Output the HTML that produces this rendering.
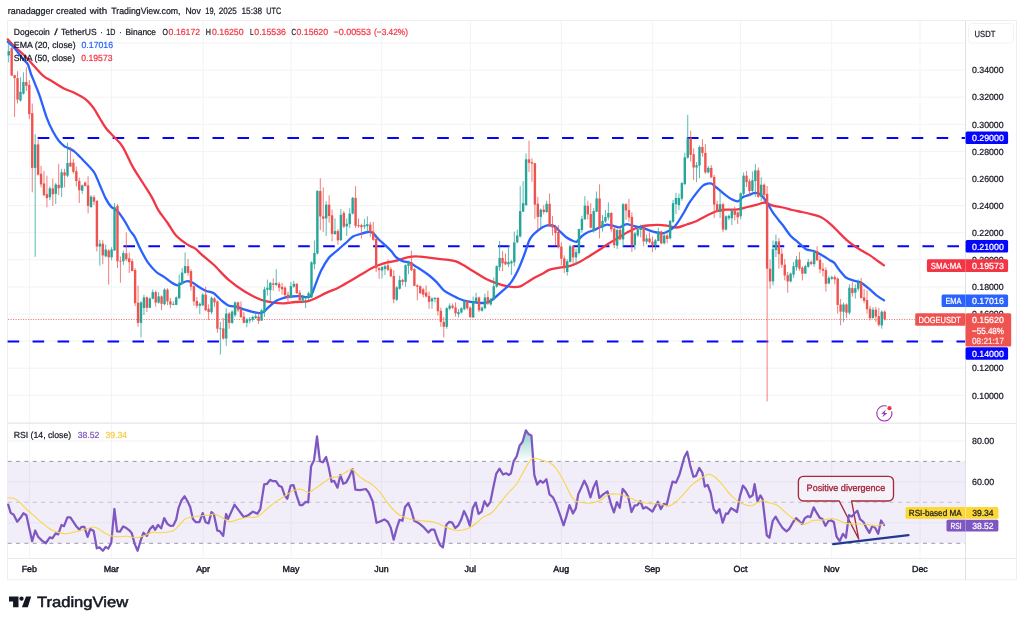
<!DOCTYPE html>
<html lang="en"><head><meta charset="utf-8"><title>DOGEUSDT chart</title>
<style>html,body{margin:0;padding:0;background:#fff;}svg{display:block}</style></head>
<body>
<svg width="1024" height="625" viewBox="0 0 1024 625" font-family='"Liberation Sans", sans-serif' font-size="8.9" fill="#131722" shape-rendering="auto" text-rendering="geometricPrecision">
<rect width="1024" height="625" fill="#fff"/>
<text x="7.8" y="14.3" font-size="9.2" stroke="#131722" stroke-width="0.22" textLength="45.7" lengthAdjust="spacingAndGlyphs">ranadagger</text>
<text x="56.1" y="14.3" font-size="9.2" stroke="#131722" stroke-width="0.22" textLength="30.3" lengthAdjust="spacingAndGlyphs">created</text>
<text x="89.7" y="14.3" font-size="9.2" stroke="#131722" stroke-width="0.22" textLength="17.4" lengthAdjust="spacingAndGlyphs">with</text>
<text x="111.3" y="14.3" font-size="9.2" stroke="#131722" stroke-width="0.22" textLength="69.2" lengthAdjust="spacingAndGlyphs">TradingView.com,</text>
<text x="185.4" y="14.3" font-size="9.2" stroke="#131722" stroke-width="0.22" textLength="15.3" lengthAdjust="spacingAndGlyphs">Nov</text>
<text x="205.3" y="14.3" font-size="9.2" stroke="#131722" stroke-width="0.22" textLength="10.3" lengthAdjust="spacingAndGlyphs">19,</text>
<text x="218.8" y="14.3" font-size="9.2" stroke="#131722" stroke-width="0.22" textLength="18.1" lengthAdjust="spacingAndGlyphs">2025</text>
<text x="241.4" y="14.3" font-size="9.2" stroke="#131722" stroke-width="0.22" textLength="20.8" lengthAdjust="spacingAndGlyphs">15:38</text>
<text x="266.3" y="14.3" font-size="9.2" stroke="#131722" stroke-width="0.22" textLength="14.8" lengthAdjust="spacingAndGlyphs">UTC</text>
<rect x="7.5" y="20.5" width="1009" height="559.2" fill="#fff" stroke="#eceef1" stroke-width="1"/>
<g stroke="#f2f3f5" stroke-width="1">
<line x1="8" x2="965" y1="43.0" y2="43.0"/>
<line x1="8" x2="965" y1="70.1" y2="70.1"/>
<line x1="8" x2="965" y1="97.2" y2="97.2"/>
<line x1="8" x2="965" y1="124.3" y2="124.3"/>
<line x1="8" x2="965" y1="151.4" y2="151.4"/>
<line x1="8" x2="965" y1="178.5" y2="178.5"/>
<line x1="8" x2="965" y1="205.6" y2="205.6"/>
<line x1="8" x2="965" y1="232.7" y2="232.7"/>
<line x1="8" x2="965" y1="259.8" y2="259.8"/>
<line x1="8" x2="965" y1="286.9" y2="286.9"/>
<line x1="8" x2="965" y1="314.0" y2="314.0"/>
<line x1="8" x2="965" y1="341.1" y2="341.1"/>
<line x1="8" x2="965" y1="368.2" y2="368.2"/>
<line x1="8" x2="965" y1="395.3" y2="395.3"/>
<line x1="8" x2="965" y1="422.4" y2="422.4"/>
<line x1="29.4" x2="29.4" y1="21" y2="558"/>
<line x1="111.4" x2="111.4" y1="21" y2="558"/>
<line x1="203.2" x2="203.2" y1="21" y2="558"/>
<line x1="291.1" x2="291.1" y1="21" y2="558"/>
<line x1="381.6" x2="381.6" y1="21" y2="558"/>
<line x1="470.4" x2="470.4" y1="21" y2="558"/>
<line x1="561.3" x2="561.3" y1="21" y2="558"/>
<line x1="652.4" x2="652.4" y1="21" y2="558"/>
<line x1="740.6" x2="740.6" y1="21" y2="558"/>
<line x1="831.7" x2="831.7" y1="21" y2="558"/>
<line x1="920.0" x2="920.0" y1="21" y2="558"/>
<line x1="8" x2="965" y1="440.9" y2="440.9"/>
<line x1="8" x2="965" y1="481.9" y2="481.9"/>
<line x1="8" x2="965" y1="522.8" y2="522.8"/>
</g>
<rect x="8" y="461.4" width="957.5" height="81.9" fill="#7e57c2" fill-opacity="0.1"/>
<g stroke="#787b86" stroke-opacity="0.75" stroke-width="1" stroke-dasharray="3.9 4.42">
<line x1="7.8" x2="965" y1="461.4" y2="461.4"/>
<line x1="7.8" x2="965" y1="543.3" y2="543.3"/>
<line x1="7.8" x2="965" y1="502.3" y2="502.3" stroke-opacity="0.4"/>
</g>
<g stroke="#e3e5ea" stroke-width="1">
<line x1="8" x2="1016" y1="423.5" y2="423.5" stroke="#e8eaee"/>
<line x1="8" x2="1016" y1="558.5" y2="558.5" stroke="#e8eaee"/>
<line x1="965.5" x2="965.5" y1="21" y2="580" stroke="#dfe1e6"/>
</g>
<g stroke="#0404ff" stroke-width="2.1" stroke-dasharray="11.6 13.37">
<line x1="37.7" x2="965" y1="138.0" y2="138.0"/>
<line x1="123.4" x2="965" y1="246.2" y2="246.2"/>
<line x1="7.6" x2="965" y1="341.5" y2="341.5"/>
</g>
<path d="M7.8,39.4 C8.9,40.6 11.8,44.0 14.6,46.7 C17.4,49.4 21.1,52.2 24.4,55.5 C27.7,58.8 31.1,62.9 34.2,66.3 C37.3,69.6 39.9,73.0 43.0,75.6 C46.1,78.2 49.1,79.5 52.7,81.7 C56.3,83.9 60.9,87.0 64.5,88.8 C68.1,90.6 70.6,90.9 74.2,92.7 C77.8,94.5 82.7,97.0 86.0,99.6 C89.3,102.2 91.5,105.3 93.8,108.4 C96.1,111.5 97.5,114.6 99.6,118.0 C101.7,121.4 103.8,125.5 106.4,128.8 C109.0,132.1 112.4,134.9 115.2,138.0 C118.0,141.1 120.1,142.5 123.0,147.3 C125.9,152.1 129.5,161.0 132.8,166.9 C136.1,172.8 139.3,177.3 142.6,182.5 C145.8,187.7 149.7,193.5 152.3,198.1 C154.9,202.7 155.6,205.6 158.2,209.8 C160.8,214.0 165.1,219.3 168.0,223.5 C170.9,227.7 172.6,231.7 175.8,235.2 C179.1,238.7 184.2,242.4 187.5,244.6 C190.8,246.8 192.9,246.9 195.3,248.6 C197.7,250.3 198.7,251.9 201.7,254.6 C204.7,257.2 208.8,260.2 213.4,264.5 C218.0,268.8 223.8,275.7 229.0,280.2 C234.2,284.7 239.5,288.4 244.7,291.6 C249.9,294.8 255.8,297.7 260.3,299.5 C264.9,301.3 268.1,301.8 272.0,302.4 C275.9,303.0 279.8,303.5 283.8,303.4 C287.7,303.3 291.6,302.3 295.5,302.0 C299.4,301.7 303.9,302.0 307.2,301.4 C310.4,300.8 311.8,300.0 315.0,298.5 C318.2,297.0 322.8,294.4 326.7,292.6 C330.6,290.8 334.5,289.6 338.4,287.7 C342.3,285.8 346.3,283.2 350.2,280.9 C354.1,278.6 358.0,276.3 361.9,274.0 C365.8,271.7 370.0,269.0 373.6,267.2 C377.2,265.4 380.1,264.4 383.8,263.3 C387.4,262.2 391.6,261.9 395.5,260.9 C399.4,259.9 403.6,258.1 407.2,257.4 C410.8,256.6 413.4,256.3 417.0,256.4 C420.6,256.4 425.0,257.3 428.6,257.7 C432.2,258.1 435.1,258.4 438.4,258.8 C441.6,259.2 445.2,259.4 448.1,259.8 C451.0,260.2 453.3,260.5 455.9,261.4 C458.5,262.3 461.1,263.8 463.8,265.3 C466.4,266.8 469.0,268.6 471.6,270.2 C474.2,271.8 476.8,273.4 479.4,275.0 C482.0,276.6 484.3,278.1 487.2,279.5 C490.1,280.9 493.8,282.3 497.0,283.4 C500.2,284.5 503.8,285.6 506.7,286.2 C509.6,286.8 512.2,287.1 514.5,287.1 C516.8,287.1 518.4,287.1 520.4,286.4 C522.4,285.7 524.0,284.3 526.2,282.9 C528.5,281.5 531.4,279.5 534.0,278.0 C536.6,276.5 539.3,275.4 541.9,274.0 C544.5,272.6 546.9,270.8 549.8,269.7 C552.7,268.6 556.2,268.3 559.5,267.7 C562.8,267.1 566.0,267.1 569.3,266.2 C572.5,265.3 575.8,263.9 579.0,262.3 C582.2,260.7 585.5,258.4 588.8,256.4 C592.1,254.4 595.3,252.3 598.6,250.2 C601.9,248.1 605.1,245.8 608.4,243.7 C611.6,241.6 614.9,239.8 618.1,237.9 C621.4,236.0 624.6,233.7 627.9,232.0 C631.2,230.3 634.5,228.6 637.7,227.5 C641.0,226.4 644.1,225.9 647.4,225.5 C650.6,225.1 653.9,224.8 657.2,224.8 C660.5,224.8 663.8,225.2 667.0,225.7 C670.2,226.1 673.5,227.7 676.7,227.5 C680.0,227.3 683.2,225.6 686.5,224.5 C689.8,223.4 693.0,222.6 696.2,221.2 C699.5,219.8 702.7,217.6 706.0,216.0 C709.3,214.4 712.5,212.6 715.8,211.5 C719.0,210.4 721.9,210.1 725.5,209.7 C729.1,209.3 734.1,209.8 737.7,209.3 C741.4,208.9 744.1,207.8 747.4,207.0 C750.6,206.2 754.3,205.3 757.2,204.6 C760.1,203.9 762.4,202.5 765.0,202.7 C767.6,202.9 769.9,204.8 772.8,205.6 C775.7,206.4 779.4,206.8 782.6,207.5 C785.9,208.2 789.0,209.2 792.3,210.0 C795.5,210.8 798.8,211.3 802.1,212.0 C805.4,212.7 808.6,213.4 811.9,214.3 C815.1,215.2 818.4,215.8 821.6,217.5 C824.8,219.2 828.4,222.3 831.3,224.8 C834.2,227.3 836.5,230.0 839.1,232.6 C841.7,235.2 844.4,238.1 847.0,240.4 C849.6,242.7 852.2,244.5 854.8,246.2 C857.4,248.0 860.0,249.5 862.6,251.1 C865.2,252.7 868.1,254.1 870.4,255.6 C872.7,257.1 874.0,258.3 876.2,259.9 C878.5,261.5 882.7,264.5 884.0,265.4" fill="none" stroke="#f23645" stroke-width="2.3" stroke-linejoin="round" stroke-linecap="round" />
<path d="M7.8,41.9 C8.7,42.7 13.1,46.6 14.6,48.2 C16.1,49.8 18.3,53.1 19.5,54.6 C20.7,56.1 23.4,59.2 24.4,60.4 C25.4,61.6 26.9,62.5 27.8,64.3 C28.7,66.1 30.3,72.0 31.2,74.5 C32.2,77.0 34.2,81.7 35.2,84.3 C36.2,86.9 38.0,91.1 39.5,95.3 C41.0,99.5 45.2,113.7 46.9,118.2 C48.5,122.7 51.2,128.2 52.7,131.0 C54.2,133.8 57.1,138.6 58.6,140.5 C60.1,142.4 63.5,145.6 64.5,146.4 C65.5,147.2 65.2,146.7 66.4,147.3 C67.6,147.9 72.2,149.8 74.2,151.3 C76.2,152.8 79.5,156.4 82.0,159.0 C84.5,161.6 91.6,168.6 93.8,171.8 C96.0,175.0 98.1,181.2 99.6,184.5 C101.1,187.8 104.0,195.3 105.5,198.1 C107.0,200.9 109.8,205.3 111.3,206.9 C112.8,208.5 115.5,209.0 117.2,210.8 C118.9,212.6 123.4,219.1 125.0,221.6 C126.6,224.1 128.8,228.6 130.0,230.5 C131.2,232.4 133.5,234.6 134.8,237.0 C136.1,239.4 138.9,246.2 140.6,249.5 C142.3,252.8 146.4,260.4 148.4,263.2 C150.4,266.0 154.4,270.3 156.3,272.0 C158.2,273.7 162.1,275.6 164.0,276.9 C165.9,278.2 170.2,281.6 171.9,282.7 C173.6,283.8 176.4,285.3 177.7,285.3 C179.0,285.3 181.4,283.2 182.6,282.7 C183.8,282.2 186.2,281.2 187.5,281.2 C188.8,281.2 192.1,282.4 193.4,283.0 C194.7,283.6 196.3,285.2 197.8,286.2 C199.3,287.2 203.7,289.8 205.6,290.7 C207.5,291.6 211.4,291.8 213.4,293.0 C215.4,294.2 219.4,298.8 221.3,300.4 C223.2,302.0 227.1,304.9 229.0,305.7 C230.9,306.5 234.9,306.4 236.9,306.9 C238.9,307.4 242.8,309.0 244.7,309.6 C246.6,310.2 250.6,311.4 252.5,311.8 C254.4,312.2 258.8,313.1 260.3,313.1 C261.8,313.1 263.2,312.3 264.2,311.6 C265.2,310.9 266.6,309.0 268.1,307.7 C269.6,306.4 273.9,302.2 275.9,301.0 C277.9,299.8 281.8,298.5 283.8,297.9 C285.7,297.3 289.6,296.7 291.6,296.5 C293.6,296.3 297.4,296.0 299.4,296.1 C301.3,296.2 305.7,297.2 307.2,297.1 C308.7,297.0 310.1,296.9 311.1,295.5 C312.1,294.1 313.8,288.9 315.0,285.8 C316.2,282.8 319.2,274.6 320.9,271.1 C322.6,267.6 326.7,260.6 328.7,258.0 C330.7,255.4 334.8,252.5 337.0,250.6 C339.2,248.7 344.3,244.3 346.3,242.5 C348.3,240.7 351.2,237.6 353.0,236.5 C354.8,235.4 358.4,234.6 360.3,234.0 C362.2,233.4 366.5,232.1 368.1,232.0 C369.7,231.9 371.8,232.2 373.0,233.0 C374.2,233.8 376.3,236.9 377.9,238.5 C379.5,240.1 384.0,244.1 385.7,245.7 C387.4,247.3 390.3,250.1 391.6,251.6 C392.9,253.1 394.9,256.3 396.4,257.5 C397.9,258.7 401.7,260.7 403.3,261.3 C404.9,261.9 407.6,261.7 409.1,262.3 C410.6,262.9 413.8,265.3 415.0,266.0 C416.2,266.7 417.1,267.1 418.8,268.2 C420.5,269.3 426.4,273.3 428.6,275.0 C430.8,276.7 434.4,279.9 436.4,281.9 C438.3,283.9 442.2,289.0 444.2,290.7 C446.1,292.4 450.1,294.2 452.0,295.2 C453.9,296.2 457.8,298.2 459.8,299.0 C461.8,299.8 465.7,301.0 467.7,301.4 C469.7,301.8 473.6,302.2 475.5,302.4 C477.4,302.6 481.6,303.1 483.3,303.0 C485.0,302.9 487.6,302.5 489.1,301.8 C490.6,301.1 493.3,298.9 495.0,297.5 C496.7,296.1 500.9,292.5 502.8,290.7 C504.8,288.9 508.7,285.6 510.6,282.9 C512.6,280.2 516.7,272.8 518.4,269.2 C520.1,265.6 523.2,257.5 524.5,254.0 C525.8,250.5 528.0,243.3 529.0,241.0 C530.0,238.7 531.5,236.7 532.5,235.5 C533.5,234.3 535.4,232.6 536.6,231.6 C537.9,230.6 541.1,228.1 542.5,227.3 C543.9,226.5 545.9,225.5 547.4,225.3 C548.9,225.2 552.6,225.3 554.2,226.1 C555.8,226.9 558.6,230.2 560.1,231.6 C561.6,233.0 564.4,235.9 565.9,237.0 C567.4,238.1 570.4,239.8 571.8,240.4 C573.1,241.0 575.5,242.2 576.7,241.7 C577.9,241.2 580.3,237.6 581.6,236.4 C582.9,235.2 585.7,233.3 587.4,232.5 C589.1,231.7 593.5,230.3 595.2,229.6 C596.9,228.9 599.6,227.3 601.1,226.7 C602.6,226.1 605.5,224.8 607.0,224.7 C608.5,224.6 611.2,225.4 612.8,225.7 C614.4,226.0 617.9,227.5 619.6,227.3 C621.3,227.1 624.7,224.2 626.5,224.1 C628.3,223.9 632.3,225.7 634.3,226.1 C636.2,226.5 640.1,227.1 642.1,227.7 C644.1,228.3 648.1,230.0 649.9,230.6 C651.7,231.2 655.0,232.2 656.8,232.5 C658.5,232.8 662.0,233.3 663.6,233.1 C665.2,232.9 668.0,231.5 669.5,230.6 C671.0,229.7 674.0,227.1 675.3,225.7 C676.6,224.2 678.9,220.8 680.0,219.0 C681.1,217.2 683.4,213.4 684.5,211.5 C685.6,209.6 687.3,205.9 688.8,203.6 C690.3,201.3 694.9,195.1 696.6,192.9 C698.3,190.7 701.1,187.2 702.5,186.0 C703.9,184.8 706.3,184.0 707.4,183.7 C708.5,183.4 710.1,183.0 711.3,183.5 C712.5,184.0 715.5,186.7 717.1,188.0 C718.7,189.3 722.3,192.6 724.0,193.9 C725.7,195.2 729.1,197.8 730.8,198.8 C732.5,199.7 736.1,201.5 737.7,201.3 C739.3,201.1 742.0,197.6 743.5,196.8 C745.0,196.0 747.9,195.3 749.4,194.8 C750.9,194.3 753.7,192.9 755.2,192.9 C756.7,192.9 759.6,193.6 761.1,194.8 C762.6,196.0 765.5,200.5 767.0,202.7 C768.5,204.9 771.3,210.2 772.8,212.4 C774.3,214.6 777.5,218.6 778.7,220.2 C779.9,221.8 781.0,222.9 782.5,224.8 C784.0,226.7 788.3,233.3 790.3,235.5 C792.2,237.7 796.1,240.6 798.1,242.3 C800.1,244.0 803.9,248.1 805.9,249.2 C807.9,250.3 811.8,250.4 813.8,251.1 C815.7,251.8 819.6,253.9 821.6,255.0 C823.6,256.1 827.8,258.9 829.4,259.9 C831.0,260.9 833.1,261.7 834.3,262.9 C835.5,264.1 837.6,267.9 839.1,269.7 C840.6,271.5 844.3,276.2 846.0,277.5 C847.7,278.8 851.0,279.8 852.8,280.4 C854.6,281.0 858.6,281.4 860.6,282.4 C862.6,283.4 866.4,286.6 868.4,288.2 C870.4,289.8 874.3,293.6 876.2,295.1 C878.2,296.6 883.0,299.7 884.0,300.4" fill="none" stroke="#2962ff" stroke-width="2.3" stroke-linejoin="round" stroke-linecap="round" />
<line x1="8" x2="915" y1="319.5" y2="319.5" stroke="#ef5350" stroke-width="1" stroke-opacity="0.8" stroke-dasharray="1.1 1.41"/>
<g stroke-width="0.9" stroke-opacity="0.85"><line x1="8.72" x2="8.72" y1="40.9" y2="62.4" stroke="#26a69a"/><line x1="11.66" x2="11.66" y1="46.7" y2="76.0" stroke="#ef5350"/><line x1="14.60" x2="14.60" y1="74.8" y2="117.1" stroke="#ef5350"/><line x1="17.54" x2="17.54" y1="71.2" y2="103.5" stroke="#ef5350"/><line x1="20.48" x2="20.48" y1="77.1" y2="101.5" stroke="#26a69a"/><line x1="23.42" x2="23.42" y1="72.2" y2="94.7" stroke="#26a69a"/><line x1="26.36" x2="26.36" y1="67.3" y2="91.0" stroke="#ef5350"/><line x1="29.30" x2="29.30" y1="80.0" y2="119.1" stroke="#ef5350"/><line x1="32.24" x2="32.24" y1="103.5" y2="192.3" stroke="#ef5350"/><line x1="35.18" x2="35.18" y1="134.0" y2="256.8" stroke="#26a69a"/><line x1="38.11" x2="38.11" y1="139.5" y2="175.5" stroke="#ef5350"/><line x1="41.05" x2="41.05" y1="165.9" y2="187.4" stroke="#ef5350"/><line x1="43.99" x2="43.99" y1="170.8" y2="196.2" stroke="#ef5350"/><line x1="46.93" x2="46.93" y1="175.7" y2="207.3" stroke="#ef5350"/><line x1="49.87" x2="49.87" y1="186.4" y2="200.1" stroke="#26a69a"/><line x1="52.81" x2="52.81" y1="178.6" y2="205.9" stroke="#ef5350"/><line x1="55.75" x2="55.75" y1="182.9" y2="204.0" stroke="#26a69a"/><line x1="58.69" x2="58.69" y1="163.9" y2="195.2" stroke="#ef5350"/><line x1="61.63" x2="61.63" y1="168.8" y2="197.1" stroke="#26a69a"/><line x1="64.57" x2="64.57" y1="168.8" y2="187.4" stroke="#ef5350"/><line x1="67.51" x2="67.51" y1="142.5" y2="177.0" stroke="#26a69a"/><line x1="70.45" x2="70.45" y1="147.0" y2="166.9" stroke="#ef5350"/><line x1="73.39" x2="73.39" y1="159.1" y2="173.7" stroke="#ef5350"/><line x1="76.33" x2="76.33" y1="166.5" y2="186.4" stroke="#ef5350"/><line x1="79.27" x2="79.27" y1="177.6" y2="203.0" stroke="#ef5350"/><line x1="82.21" x2="82.21" y1="184.5" y2="193.8" stroke="#26a69a"/><line x1="85.15" x2="85.15" y1="181.5" y2="186.4" stroke="#ef5350"/><line x1="88.09" x2="88.09" y1="176.2" y2="213.4" stroke="#ef5350"/><line x1="91.03" x2="91.03" y1="195.2" y2="207.9" stroke="#26a69a"/><line x1="93.97" x2="93.97" y1="195.2" y2="205.0" stroke="#ef5350"/><line x1="96.90" x2="96.90" y1="200.0" y2="251.5" stroke="#ef5350"/><line x1="99.84" x2="99.84" y1="239.8" y2="265.5" stroke="#26a69a"/><line x1="102.78" x2="102.78" y1="240.2" y2="264.2" stroke="#ef5350"/><line x1="105.72" x2="105.72" y1="244.6" y2="257.3" stroke="#26a69a"/><line x1="108.66" x2="108.66" y1="249.1" y2="284.7" stroke="#ef5350"/><line x1="111.60" x2="111.60" y1="247.2" y2="260.3" stroke="#26a69a"/><line x1="114.54" x2="114.54" y1="203.0" y2="251.0" stroke="#26a69a"/><line x1="117.48" x2="117.48" y1="204.0" y2="268.0" stroke="#ef5350"/><line x1="120.42" x2="120.42" y1="256.4" y2="282.7" stroke="#ef5350"/><line x1="123.36" x2="123.36" y1="250.5" y2="264.8" stroke="#26a69a"/><line x1="126.30" x2="126.30" y1="232.3" y2="261.2" stroke="#ef5350"/><line x1="129.24" x2="129.24" y1="252.5" y2="273.0" stroke="#ef5350"/><line x1="132.18" x2="132.18" y1="258.9" y2="271.4" stroke="#ef5350"/><line x1="135.12" x2="135.12" y1="268.1" y2="306.2" stroke="#ef5350"/><line x1="138.06" x2="138.06" y1="285.7" y2="326.7" stroke="#ef5350"/><line x1="141.00" x2="141.00" y1="301.3" y2="337.4" stroke="#26a69a"/><line x1="143.94" x2="143.94" y1="294.8" y2="315.0" stroke="#26a69a"/><line x1="146.88" x2="146.88" y1="296.4" y2="312.0" stroke="#ef5350"/><line x1="149.82" x2="149.82" y1="297.4" y2="308.1" stroke="#26a69a"/><line x1="152.76" x2="152.76" y1="289.6" y2="299.3" stroke="#26a69a"/><line x1="155.69" x2="155.69" y1="290.5" y2="306.6" stroke="#ef5350"/><line x1="158.63" x2="158.63" y1="292.1" y2="303.8" stroke="#26a69a"/><line x1="161.57" x2="161.57" y1="295.4" y2="310.1" stroke="#ef5350"/><line x1="164.51" x2="164.51" y1="288.2" y2="305.2" stroke="#26a69a"/><line x1="167.45" x2="167.45" y1="288.2" y2="305.2" stroke="#ef5350"/><line x1="170.39" x2="170.39" y1="298.0" y2="308.1" stroke="#ef5350"/><line x1="173.33" x2="173.33" y1="301.3" y2="305.2" stroke="#26a69a"/><line x1="176.27" x2="176.27" y1="296.4" y2="305.2" stroke="#26a69a"/><line x1="179.21" x2="179.21" y1="274.5" y2="298.8" stroke="#26a69a"/><line x1="182.15" x2="182.15" y1="268.1" y2="284.7" stroke="#26a69a"/><line x1="185.09" x2="185.09" y1="252.5" y2="273.9" stroke="#26a69a"/><line x1="188.03" x2="188.03" y1="258.9" y2="275.9" stroke="#ef5350"/><line x1="190.97" x2="190.97" y1="269.2" y2="290.7" stroke="#ef5350"/><line x1="193.91" x2="193.91" y1="283.8" y2="305.7" stroke="#ef5350"/><line x1="196.85" x2="196.85" y1="297.1" y2="308.2" stroke="#ef5350"/><line x1="199.79" x2="199.79" y1="302.4" y2="314.1" stroke="#26a69a"/><line x1="202.73" x2="202.73" y1="293.2" y2="306.3" stroke="#26a69a"/><line x1="205.67" x2="205.67" y1="286.8" y2="311.2" stroke="#ef5350"/><line x1="208.61" x2="208.61" y1="304.3" y2="320.0" stroke="#ef5350"/><line x1="211.55" x2="211.55" y1="296.5" y2="314.1" stroke="#26a69a"/><line x1="214.48" x2="214.48" y1="297.1" y2="306.9" stroke="#ef5350"/><line x1="217.42" x2="217.42" y1="300.4" y2="332.7" stroke="#ef5350"/><line x1="220.36" x2="220.36" y1="321.9" y2="354.5" stroke="#26a69a"/><line x1="223.30" x2="223.30" y1="318.0" y2="339.5" stroke="#ef5350"/><line x1="226.24" x2="226.24" y1="308.2" y2="345.9" stroke="#26a69a"/><line x1="229.18" x2="229.18" y1="312.1" y2="328.8" stroke="#ef5350"/><line x1="232.12" x2="232.12" y1="310.2" y2="323.9" stroke="#26a69a"/><line x1="235.06" x2="235.06" y1="301.4" y2="317.0" stroke="#26a69a"/><line x1="238.00" x2="238.00" y1="301.4" y2="312.1" stroke="#ef5350"/><line x1="240.94" x2="240.94" y1="301.4" y2="318.0" stroke="#ef5350"/><line x1="243.88" x2="243.88" y1="312.1" y2="323.3" stroke="#ef5350"/><line x1="246.82" x2="246.82" y1="318.0" y2="327.2" stroke="#26a69a"/><line x1="249.76" x2="249.76" y1="317.0" y2="323.3" stroke="#26a69a"/><line x1="252.70" x2="252.70" y1="315.5" y2="321.9" stroke="#26a69a"/><line x1="255.64" x2="255.64" y1="312.1" y2="319.0" stroke="#26a69a"/><line x1="258.58" x2="258.58" y1="312.7" y2="323.9" stroke="#ef5350"/><line x1="261.52" x2="261.52" y1="309.2" y2="320.9" stroke="#26a69a"/><line x1="264.46" x2="264.46" y1="286.8" y2="317.0" stroke="#26a69a"/><line x1="267.40" x2="267.40" y1="279.5" y2="295.5" stroke="#26a69a"/><line x1="270.34" x2="270.34" y1="281.9" y2="301.4" stroke="#26a69a"/><line x1="273.28" x2="273.28" y1="278.4" y2="290.7" stroke="#ef5350"/><line x1="276.21" x2="276.21" y1="269.2" y2="286.2" stroke="#26a69a"/><line x1="279.15" x2="279.15" y1="281.9" y2="291.6" stroke="#ef5350"/><line x1="282.09" x2="282.09" y1="282.9" y2="294.6" stroke="#ef5350"/><line x1="285.03" x2="285.03" y1="286.2" y2="296.5" stroke="#ef5350"/><line x1="287.97" x2="287.97" y1="291.6" y2="304.3" stroke="#ef5350"/><line x1="290.91" x2="290.91" y1="281.9" y2="298.5" stroke="#26a69a"/><line x1="293.85" x2="293.85" y1="280.9" y2="287.7" stroke="#26a69a"/><line x1="296.79" x2="296.79" y1="283.4" y2="294.0" stroke="#ef5350"/><line x1="299.73" x2="299.73" y1="290.1" y2="302.4" stroke="#ef5350"/><line x1="302.67" x2="302.67" y1="294.6" y2="302.4" stroke="#26a69a"/><line x1="305.61" x2="305.61" y1="296.5" y2="308.2" stroke="#26a69a"/><line x1="308.55" x2="308.55" y1="291.6" y2="300.4" stroke="#26a69a"/><line x1="311.49" x2="311.49" y1="261.3" y2="298.0" stroke="#26a69a"/><line x1="314.43" x2="314.43" y1="240.5" y2="269.2" stroke="#26a69a"/><line x1="317.37" x2="317.37" y1="190.0" y2="254.5" stroke="#26a69a"/><line x1="320.31" x2="320.31" y1="178.3" y2="230.1" stroke="#ef5350"/><line x1="323.25" x2="323.25" y1="187.5" y2="232.0" stroke="#ef5350"/><line x1="326.19" x2="326.19" y1="201.2" y2="235.9" stroke="#26a69a"/><line x1="329.13" x2="329.13" y1="195.3" y2="222.7" stroke="#ef5350"/><line x1="332.06" x2="332.06" y1="209.6" y2="241.4" stroke="#ef5350"/><line x1="335.00" x2="335.00" y1="218.4" y2="235.0" stroke="#26a69a"/><line x1="337.94" x2="337.94" y1="229.1" y2="244.7" stroke="#ef5350"/><line x1="340.88" x2="340.88" y1="209.0" y2="240.8" stroke="#26a69a"/><line x1="343.82" x2="343.82" y1="210.9" y2="228.1" stroke="#ef5350"/><line x1="346.76" x2="346.76" y1="218.4" y2="235.9" stroke="#26a69a"/><line x1="349.70" x2="349.70" y1="208.2" y2="228.1" stroke="#26a69a"/><line x1="352.64" x2="352.64" y1="196.9" y2="214.5" stroke="#26a69a"/><line x1="355.58" x2="355.58" y1="186.1" y2="228.1" stroke="#ef5350"/><line x1="358.52" x2="358.52" y1="218.4" y2="227.7" stroke="#ef5350"/><line x1="361.46" x2="361.46" y1="223.8" y2="238.3" stroke="#ef5350"/><line x1="364.40" x2="364.40" y1="218.8" y2="229.1" stroke="#26a69a"/><line x1="367.34" x2="367.34" y1="216.4" y2="232.0" stroke="#26a69a"/><line x1="370.28" x2="370.28" y1="221.9" y2="236.9" stroke="#ef5350"/><line x1="373.22" x2="373.22" y1="221.9" y2="240.8" stroke="#ef5350"/><line x1="376.16" x2="376.16" y1="236.9" y2="272.1" stroke="#ef5350"/><line x1="379.10" x2="379.10" y1="267.2" y2="278.9" stroke="#ef5350"/><line x1="382.04" x2="382.04" y1="266.2" y2="278.4" stroke="#26a69a"/><line x1="384.98" x2="384.98" y1="264.3" y2="275.0" stroke="#26a69a"/><line x1="387.92" x2="387.92" y1="259.4" y2="271.1" stroke="#ef5350"/><line x1="390.86" x2="390.86" y1="267.2" y2="277.0" stroke="#ef5350"/><line x1="393.79" x2="393.79" y1="270.2" y2="303.4" stroke="#ef5350"/><line x1="396.73" x2="396.73" y1="286.2" y2="301.0" stroke="#26a69a"/><line x1="399.67" x2="399.67" y1="275.6" y2="289.7" stroke="#26a69a"/><line x1="402.61" x2="402.61" y1="278.9" y2="285.4" stroke="#ef5350"/><line x1="405.55" x2="405.55" y1="264.3" y2="286.8" stroke="#26a69a"/><line x1="408.49" x2="408.49" y1="260.8" y2="274.1" stroke="#26a69a"/><line x1="411.43" x2="411.43" y1="250.6" y2="271.1" stroke="#ef5350"/><line x1="414.37" x2="414.37" y1="268.2" y2="286.2" stroke="#ef5350"/><line x1="417.31" x2="417.31" y1="284.2" y2="300.4" stroke="#ef5350"/><line x1="420.25" x2="420.25" y1="285.4" y2="294.0" stroke="#ef5350"/><line x1="423.19" x2="423.19" y1="287.7" y2="297.5" stroke="#ef5350"/><line x1="426.13" x2="426.13" y1="285.4" y2="297.5" stroke="#ef5350"/><line x1="429.07" x2="429.07" y1="291.6" y2="308.8" stroke="#ef5350"/><line x1="432.01" x2="432.01" y1="297.1" y2="308.8" stroke="#26a69a"/><line x1="434.95" x2="434.95" y1="297.1" y2="302.4" stroke="#26a69a"/><line x1="437.89" x2="437.89" y1="297.1" y2="315.5" stroke="#ef5350"/><line x1="440.83" x2="440.83" y1="307.7" y2="326.8" stroke="#ef5350"/><line x1="443.77" x2="443.77" y1="317.0" y2="337.5" stroke="#ef5350"/><line x1="446.71" x2="446.71" y1="307.3" y2="328.8" stroke="#26a69a"/><line x1="449.64" x2="449.64" y1="303.4" y2="310.2" stroke="#26a69a"/><line x1="452.58" x2="452.58" y1="303.4" y2="309.2" stroke="#ef5350"/><line x1="455.52" x2="455.52" y1="302.4" y2="316.6" stroke="#ef5350"/><line x1="458.46" x2="458.46" y1="309.2" y2="317.4" stroke="#26a69a"/><line x1="461.40" x2="461.40" y1="307.3" y2="313.5" stroke="#26a69a"/><line x1="464.34" x2="464.34" y1="299.8" y2="310.2" stroke="#26a69a"/><line x1="467.28" x2="467.28" y1="300.4" y2="310.2" stroke="#ef5350"/><line x1="470.22" x2="470.22" y1="306.3" y2="318.0" stroke="#ef5350"/><line x1="473.16" x2="473.16" y1="296.5" y2="318.0" stroke="#26a69a"/><line x1="476.10" x2="476.10" y1="292.6" y2="303.4" stroke="#26a69a"/><line x1="479.04" x2="479.04" y1="296.5" y2="312.1" stroke="#ef5350"/><line x1="481.98" x2="481.98" y1="306.3" y2="311.6" stroke="#26a69a"/><line x1="484.92" x2="484.92" y1="293.6" y2="309.2" stroke="#26a69a"/><line x1="487.86" x2="487.86" y1="290.7" y2="304.9" stroke="#ef5350"/><line x1="490.80" x2="490.80" y1="297.9" y2="305.7" stroke="#26a69a"/><line x1="493.74" x2="493.74" y1="277.6" y2="300.4" stroke="#26a69a"/><line x1="496.68" x2="496.68" y1="265.3" y2="287.7" stroke="#26a69a"/><line x1="499.62" x2="499.62" y1="240.9" y2="271.1" stroke="#26a69a"/><line x1="502.56" x2="502.56" y1="251.0" y2="271.1" stroke="#ef5350"/><line x1="505.50" x2="505.50" y1="253.6" y2="265.3" stroke="#ef5350"/><line x1="508.44" x2="508.44" y1="245.7" y2="267.2" stroke="#26a69a"/><line x1="511.37" x2="511.37" y1="260.0" y2="275.0" stroke="#26a69a"/><line x1="514.31" x2="514.31" y1="231.5" y2="266.3" stroke="#26a69a"/><line x1="517.25" x2="517.25" y1="229.6" y2="243.3" stroke="#26a69a"/><line x1="520.19" x2="520.19" y1="186.2" y2="237.4" stroke="#26a69a"/><line x1="523.13" x2="523.13" y1="181.2" y2="212.0" stroke="#26a69a"/><line x1="526.07" x2="526.07" y1="153.4" y2="205.8" stroke="#26a69a"/><line x1="529.01" x2="529.01" y1="140.7" y2="172.0" stroke="#ef5350"/><line x1="531.95" x2="531.95" y1="158.3" y2="181.8" stroke="#ef5350"/><line x1="534.89" x2="534.89" y1="162.8" y2="218.9" stroke="#ef5350"/><line x1="537.83" x2="537.83" y1="196.8" y2="230.6" stroke="#ef5350"/><line x1="540.77" x2="540.77" y1="208.5" y2="227.7" stroke="#26a69a"/><line x1="543.71" x2="543.71" y1="205.2" y2="214.4" stroke="#ef5350"/><line x1="546.65" x2="546.65" y1="200.7" y2="213.0" stroke="#26a69a"/><line x1="549.59" x2="549.59" y1="193.5" y2="226.7" stroke="#ef5350"/><line x1="552.53" x2="552.53" y1="215.9" y2="235.5" stroke="#ef5350"/><line x1="555.47" x2="555.47" y1="224.8" y2="245.1" stroke="#ef5350"/><line x1="558.41" x2="558.41" y1="225.2" y2="248.6" stroke="#ef5350"/><line x1="561.35" x2="561.35" y1="242.3" y2="265.2" stroke="#ef5350"/><line x1="564.29" x2="564.29" y1="255.4" y2="273.0" stroke="#ef5350"/><line x1="567.23" x2="567.23" y1="259.3" y2="275.5" stroke="#26a69a"/><line x1="570.16" x2="570.16" y1="244.7" y2="262.7" stroke="#26a69a"/><line x1="573.10" x2="573.10" y1="245.1" y2="263.8" stroke="#ef5350"/><line x1="576.04" x2="576.04" y1="248.6" y2="265.2" stroke="#26a69a"/><line x1="578.98" x2="578.98" y1="228.7" y2="254.5" stroke="#26a69a"/><line x1="581.92" x2="581.92" y1="215.8" y2="232.6" stroke="#26a69a"/><line x1="584.86" x2="584.86" y1="196.2" y2="219.7" stroke="#26a69a"/><line x1="587.80" x2="587.80" y1="200.7" y2="219.5" stroke="#ef5350"/><line x1="590.74" x2="590.74" y1="203.2" y2="228.6" stroke="#ef5350"/><line x1="593.68" x2="593.68" y1="208.1" y2="232.5" stroke="#26a69a"/><line x1="596.62" x2="596.62" y1="191.5" y2="212.0" stroke="#26a69a"/><line x1="599.56" x2="599.56" y1="184.3" y2="238.4" stroke="#ef5350"/><line x1="602.50" x2="602.50" y1="215.0" y2="231.6" stroke="#26a69a"/><line x1="605.44" x2="605.44" y1="210.1" y2="222.8" stroke="#26a69a"/><line x1="608.38" x2="608.38" y1="202.3" y2="220.2" stroke="#26a69a"/><line x1="611.32" x2="611.32" y1="212.0" y2="231.6" stroke="#ef5350"/><line x1="614.26" x2="614.26" y1="225.3" y2="248.2" stroke="#ef5350"/><line x1="617.20" x2="617.20" y1="228.6" y2="249.1" stroke="#26a69a"/><line x1="620.14" x2="620.14" y1="226.7" y2="240.4" stroke="#ef5350"/><line x1="623.08" x2="623.08" y1="203.2" y2="247.2" stroke="#26a69a"/><line x1="626.01" x2="626.01" y1="203.2" y2="219.8" stroke="#ef5350"/><line x1="628.95" x2="628.95" y1="198.8" y2="221.8" stroke="#ef5350"/><line x1="631.89" x2="631.89" y1="212.4" y2="252.0" stroke="#ef5350"/><line x1="634.83" x2="634.83" y1="232.0" y2="250.0" stroke="#26a69a"/><line x1="637.77" x2="637.77" y1="227.3" y2="237.0" stroke="#26a69a"/><line x1="640.71" x2="640.71" y1="224.7" y2="237.4" stroke="#26a69a"/><line x1="643.65" x2="643.65" y1="225.3" y2="246.2" stroke="#ef5350"/><line x1="646.59" x2="646.59" y1="234.5" y2="244.3" stroke="#26a69a"/><line x1="649.53" x2="649.53" y1="232.5" y2="243.3" stroke="#ef5350"/><line x1="652.47" x2="652.47" y1="236.4" y2="252.1" stroke="#ef5350"/><line x1="655.41" x2="655.41" y1="239.0" y2="250.1" stroke="#26a69a"/><line x1="658.35" x2="658.35" y1="227.7" y2="241.3" stroke="#26a69a"/><line x1="661.29" x2="661.29" y1="230.6" y2="244.3" stroke="#ef5350"/><line x1="664.23" x2="664.23" y1="232.5" y2="244.3" stroke="#26a69a"/><line x1="667.17" x2="667.17" y1="233.5" y2="243.3" stroke="#ef5350"/><line x1="670.11" x2="670.11" y1="220.2" y2="239.4" stroke="#26a69a"/><line x1="673.05" x2="673.05" y1="199.9" y2="222.8" stroke="#26a69a"/><line x1="675.99" x2="675.99" y1="192.9" y2="214.0" stroke="#26a69a"/><line x1="678.93" x2="678.93" y1="193.5" y2="210.1" stroke="#26a69a"/><line x1="681.87" x2="681.87" y1="182.1" y2="200.7" stroke="#26a69a"/><line x1="684.80" x2="684.80" y1="152.9" y2="185.1" stroke="#26a69a"/><line x1="687.74" x2="687.74" y1="114.8" y2="158.7" stroke="#26a69a"/><line x1="690.68" x2="690.68" y1="130.8" y2="161.6" stroke="#ef5350"/><line x1="693.62" x2="693.62" y1="148.4" y2="180.2" stroke="#ef5350"/><line x1="696.56" x2="696.56" y1="162.0" y2="182.1" stroke="#26a69a"/><line x1="699.50" x2="699.50" y1="145.6" y2="178.2" stroke="#26a69a"/><line x1="702.44" x2="702.44" y1="139.2" y2="156.8" stroke="#ef5350"/><line x1="705.38" x2="705.38" y1="144.1" y2="173.8" stroke="#ef5350"/><line x1="708.32" x2="708.32" y1="165.9" y2="173.4" stroke="#26a69a"/><line x1="711.26" x2="711.26" y1="165.2" y2="178.2" stroke="#ef5350"/><line x1="714.20" x2="714.20" y1="174.9" y2="217.9" stroke="#ef5350"/><line x1="717.14" x2="717.14" y1="200.7" y2="212.0" stroke="#ef5350"/><line x1="720.08" x2="720.08" y1="190.9" y2="217.9" stroke="#26a69a"/><line x1="723.02" x2="723.02" y1="202.7" y2="232.2" stroke="#ef5350"/><line x1="725.96" x2="725.96" y1="215.4" y2="230.5" stroke="#26a69a"/><line x1="728.90" x2="728.90" y1="214.4" y2="220.2" stroke="#26a69a"/><line x1="731.84" x2="731.84" y1="208.9" y2="225.1" stroke="#26a69a"/><line x1="734.78" x2="734.78" y1="206.6" y2="220.2" stroke="#ef5350"/><line x1="737.72" x2="737.72" y1="211.4" y2="224.1" stroke="#ef5350"/><line x1="740.66" x2="740.66" y1="192.5" y2="219.3" stroke="#26a69a"/><line x1="743.60" x2="743.60" y1="172.4" y2="195.8" stroke="#26a69a"/><line x1="746.53" x2="746.53" y1="171.0" y2="187.0" stroke="#ef5350"/><line x1="749.47" x2="749.47" y1="178.8" y2="196.4" stroke="#ef5350"/><line x1="752.41" x2="752.41" y1="171.4" y2="191.9" stroke="#26a69a"/><line x1="755.35" x2="755.35" y1="164.0" y2="196.8" stroke="#26a69a"/><line x1="758.29" x2="758.29" y1="167.5" y2="197.8" stroke="#ef5350"/><line x1="761.23" x2="761.23" y1="177.3" y2="201.1" stroke="#26a69a"/><line x1="764.17" x2="764.17" y1="183.5" y2="202.7" stroke="#ef5350"/><line x1="767.11" x2="767.11" y1="186.0" y2="401.4" stroke="#ef5350"/><line x1="770.05" x2="770.05" y1="259.5" y2="288.8" stroke="#ef5350"/><line x1="772.99" x2="772.99" y1="240.4" y2="285.3" stroke="#26a69a"/><line x1="775.93" x2="775.93" y1="234.5" y2="257.0" stroke="#26a69a"/><line x1="778.87" x2="778.87" y1="238.0" y2="268.7" stroke="#ef5350"/><line x1="781.81" x2="781.81" y1="248.2" y2="267.7" stroke="#ef5350"/><line x1="784.75" x2="784.75" y1="258.9" y2="280.4" stroke="#ef5350"/><line x1="787.69" x2="787.69" y1="272.0" y2="292.7" stroke="#ef5350"/><line x1="790.63" x2="790.63" y1="272.6" y2="282.4" stroke="#26a69a"/><line x1="793.57" x2="793.57" y1="261.9" y2="277.9" stroke="#26a69a"/><line x1="796.51" x2="796.51" y1="256.0" y2="270.7" stroke="#26a69a"/><line x1="799.45" x2="799.45" y1="252.1" y2="270.7" stroke="#ef5350"/><line x1="802.38" x2="802.38" y1="266.2" y2="280.4" stroke="#ef5350"/><line x1="805.32" x2="805.32" y1="264.8" y2="274.0" stroke="#26a69a"/><line x1="808.26" x2="808.26" y1="258.9" y2="267.7" stroke="#26a69a"/><line x1="811.20" x2="811.20" y1="260.3" y2="265.4" stroke="#ef5350"/><line x1="814.14" x2="814.14" y1="250.2" y2="266.8" stroke="#26a69a"/><line x1="817.08" x2="817.08" y1="246.2" y2="260.9" stroke="#ef5350"/><line x1="820.02" x2="820.02" y1="256.0" y2="273.2" stroke="#ef5350"/><line x1="822.96" x2="822.96" y1="262.9" y2="276.5" stroke="#ef5350"/><line x1="825.90" x2="825.90" y1="267.3" y2="291.6" stroke="#ef5350"/><line x1="828.84" x2="828.84" y1="275.9" y2="284.3" stroke="#26a69a"/><line x1="831.78" x2="831.78" y1="275.9" y2="279.8" stroke="#26a69a"/><line x1="834.72" x2="834.72" y1="275.2" y2="284.3" stroke="#ef5350"/><line x1="837.66" x2="837.66" y1="277.5" y2="313.6" stroke="#ef5350"/><line x1="840.60" x2="840.60" y1="299.0" y2="325.4" stroke="#ef5350"/><line x1="843.54" x2="843.54" y1="302.5" y2="322.0" stroke="#26a69a"/><line x1="846.48" x2="846.48" y1="303.3" y2="318.1" stroke="#ef5350"/><line x1="849.42" x2="849.42" y1="284.3" y2="314.6" stroke="#26a69a"/><line x1="852.36" x2="852.36" y1="282.4" y2="296.6" stroke="#ef5350"/><line x1="855.30" x2="855.30" y1="284.3" y2="298.6" stroke="#26a69a"/><line x1="858.24" x2="858.24" y1="279.5" y2="291.2" stroke="#26a69a"/><line x1="861.17" x2="861.17" y1="277.9" y2="298.6" stroke="#ef5350"/><line x1="864.11" x2="864.11" y1="288.8" y2="303.3" stroke="#ef5350"/><line x1="867.05" x2="867.05" y1="290.2" y2="313.6" stroke="#ef5350"/><line x1="869.99" x2="869.99" y1="305.8" y2="320.5" stroke="#ef5350"/><line x1="872.93" x2="872.93" y1="307.2" y2="318.5" stroke="#26a69a"/><line x1="875.87" x2="875.87" y1="306.8" y2="322.0" stroke="#ef5350"/><line x1="878.81" x2="878.81" y1="307.8" y2="326.7" stroke="#ef5350"/><line x1="881.75" x2="881.75" y1="310.3" y2="328.7" stroke="#26a69a"/><line x1="884.69" x2="884.69" y1="310.3" y2="320.5" stroke="#ef5350"/></g>
<g><rect x="7.52" y="51.1" width="2.4" height="4.4" fill="#26a69a"/><rect x="10.46" y="48.2" width="2.4" height="27.4" fill="#ef5350"/><rect x="13.40" y="75.2" width="2.4" height="2.9" fill="#ef5350"/><rect x="16.34" y="78.1" width="2.4" height="21.5" fill="#ef5350"/><rect x="19.28" y="91.8" width="2.4" height="8.7" fill="#26a69a"/><rect x="22.22" y="82.0" width="2.4" height="11.7" fill="#26a69a"/><rect x="25.16" y="82.0" width="2.4" height="3.9" fill="#ef5350"/><rect x="28.10" y="84.9" width="2.4" height="29.3" fill="#ef5350"/><rect x="31.04" y="113.2" width="2.4" height="54.7" fill="#ef5350"/><rect x="33.98" y="144.4" width="2.4" height="23.5" fill="#26a69a"/><rect x="36.91" y="144.4" width="2.4" height="30.3" fill="#ef5350"/><rect x="39.85" y="173.7" width="2.4" height="10.7" fill="#ef5350"/><rect x="42.79" y="183.5" width="2.4" height="11.7" fill="#ef5350"/><rect x="45.73" y="194.2" width="2.4" height="3.9" fill="#ef5350"/><rect x="48.67" y="188.4" width="2.4" height="8.8" fill="#26a69a"/><rect x="51.61" y="188.4" width="2.4" height="5.9" fill="#ef5350"/><rect x="54.55" y="184.5" width="2.4" height="9.4" fill="#26a69a"/><rect x="57.49" y="184.8" width="2.4" height="3.5" fill="#ef5350"/><rect x="60.43" y="172.3" width="2.4" height="15.6" fill="#26a69a"/><rect x="63.37" y="172.3" width="2.4" height="3.3" fill="#ef5350"/><rect x="66.31" y="163.0" width="2.4" height="12.7" fill="#26a69a"/><rect x="69.25" y="162.6" width="2.4" height="3.9" fill="#ef5350"/><rect x="72.19" y="162.6" width="2.4" height="9.2" fill="#ef5350"/><rect x="75.13" y="171.2" width="2.4" height="9.8" fill="#ef5350"/><rect x="78.07" y="180.9" width="2.4" height="9.4" fill="#ef5350"/><rect x="81.01" y="185.4" width="2.4" height="5.3" fill="#26a69a"/><rect x="83.95" y="182.5" width="2.4" height="3.5" fill="#ef5350"/><rect x="86.89" y="185.4" width="2.4" height="20.5" fill="#ef5350"/><rect x="89.83" y="196.6" width="2.4" height="10.4" fill="#26a69a"/><rect x="92.77" y="197.1" width="2.4" height="4.5" fill="#ef5350"/><rect x="95.70" y="201.0" width="2.4" height="45.6" fill="#ef5350"/><rect x="98.64" y="243.7" width="2.4" height="2.9" fill="#26a69a"/><rect x="101.58" y="243.7" width="2.4" height="11.7" fill="#ef5350"/><rect x="104.52" y="249.5" width="2.4" height="6.8" fill="#26a69a"/><rect x="107.46" y="250.5" width="2.4" height="6.8" fill="#ef5350"/><rect x="110.40" y="249.5" width="2.4" height="7.8" fill="#26a69a"/><rect x="113.34" y="206.9" width="2.4" height="43.6" fill="#26a69a"/><rect x="116.28" y="205.9" width="2.4" height="55.3" fill="#ef5350"/><rect x="119.22" y="260.9" width="2.4" height="0.8" fill="#ef5350"/><rect x="122.16" y="253.0" width="2.4" height="8.2" fill="#26a69a"/><rect x="125.10" y="253.4" width="2.4" height="5.9" fill="#ef5350"/><rect x="128.04" y="258.3" width="2.4" height="3.9" fill="#ef5350"/><rect x="130.98" y="261.2" width="2.4" height="9.8" fill="#ef5350"/><rect x="133.92" y="270.0" width="2.4" height="33.2" fill="#ef5350"/><rect x="136.86" y="302.7" width="2.4" height="20.1" fill="#ef5350"/><rect x="139.80" y="302.3" width="2.4" height="20.5" fill="#26a69a"/><rect x="142.74" y="297.4" width="2.4" height="10.7" fill="#26a69a"/><rect x="145.68" y="297.4" width="2.4" height="10.4" fill="#ef5350"/><rect x="148.62" y="298.4" width="2.4" height="9.4" fill="#26a69a"/><rect x="151.56" y="292.1" width="2.4" height="6.6" fill="#26a69a"/><rect x="154.50" y="292.1" width="2.4" height="10.5" fill="#ef5350"/><rect x="157.43" y="296.4" width="2.4" height="6.2" fill="#26a69a"/><rect x="160.37" y="296.4" width="2.4" height="7.4" fill="#ef5350"/><rect x="163.31" y="289.6" width="2.4" height="14.6" fill="#26a69a"/><rect x="166.25" y="289.6" width="2.4" height="11.7" fill="#ef5350"/><rect x="169.19" y="301.3" width="2.4" height="3.3" fill="#ef5350"/><rect x="172.13" y="303.8" width="2.4" height="1.0" fill="#26a69a"/><rect x="175.07" y="297.4" width="2.4" height="7.4" fill="#26a69a"/><rect x="178.01" y="282.7" width="2.4" height="15.6" fill="#26a69a"/><rect x="180.95" y="272.6" width="2.4" height="11.1" fill="#26a69a"/><rect x="183.89" y="266.1" width="2.4" height="6.8" fill="#26a69a"/><rect x="186.83" y="266.1" width="2.4" height="6.8" fill="#ef5350"/><rect x="189.77" y="271.1" width="2.4" height="15.6" fill="#ef5350"/><rect x="192.71" y="286.2" width="2.4" height="15.2" fill="#ef5350"/><rect x="195.65" y="301.0" width="2.4" height="4.7" fill="#ef5350"/><rect x="198.59" y="303.8" width="2.4" height="2.0" fill="#26a69a"/><rect x="201.53" y="294.6" width="2.4" height="10.7" fill="#26a69a"/><rect x="204.47" y="294.6" width="2.4" height="15.6" fill="#ef5350"/><rect x="207.41" y="308.8" width="2.4" height="3.3" fill="#ef5350"/><rect x="210.35" y="297.9" width="2.4" height="14.3" fill="#26a69a"/><rect x="213.28" y="298.5" width="2.4" height="3.9" fill="#ef5350"/><rect x="216.22" y="301.4" width="2.4" height="27.3" fill="#ef5350"/><rect x="219.16" y="328.4" width="2.4" height="0.8" fill="#26a69a"/><rect x="222.10" y="328.4" width="2.4" height="10.2" fill="#ef5350"/><rect x="225.04" y="313.5" width="2.4" height="25.0" fill="#26a69a"/><rect x="227.98" y="313.5" width="2.4" height="9.4" fill="#ef5350"/><rect x="230.92" y="311.6" width="2.4" height="11.3" fill="#26a69a"/><rect x="233.86" y="302.4" width="2.4" height="12.7" fill="#26a69a"/><rect x="236.80" y="302.4" width="2.4" height="7.8" fill="#ef5350"/><rect x="239.74" y="309.2" width="2.4" height="7.8" fill="#ef5350"/><rect x="242.68" y="316.6" width="2.4" height="6.2" fill="#ef5350"/><rect x="245.62" y="319.4" width="2.4" height="3.5" fill="#26a69a"/><rect x="248.56" y="319.0" width="2.4" height="1.6" fill="#26a69a"/><rect x="251.50" y="317.0" width="2.4" height="2.9" fill="#26a69a"/><rect x="254.44" y="316.1" width="2.4" height="2.0" fill="#26a69a"/><rect x="257.38" y="316.6" width="2.4" height="4.3" fill="#ef5350"/><rect x="260.32" y="310.2" width="2.4" height="10.4" fill="#26a69a"/><rect x="263.26" y="289.3" width="2.4" height="22.9" fill="#26a69a"/><rect x="266.20" y="287.7" width="2.4" height="2.0" fill="#26a69a"/><rect x="269.14" y="282.9" width="2.4" height="7.2" fill="#26a69a"/><rect x="272.08" y="283.4" width="2.4" height="1.4" fill="#ef5350"/><rect x="275.01" y="282.9" width="2.4" height="2.0" fill="#26a69a"/><rect x="277.95" y="283.8" width="2.4" height="3.9" fill="#ef5350"/><rect x="280.89" y="286.8" width="2.4" height="2.5" fill="#ef5350"/><rect x="283.83" y="287.7" width="2.4" height="7.4" fill="#ef5350"/><rect x="286.77" y="294.6" width="2.4" height="3.3" fill="#ef5350"/><rect x="289.71" y="286.2" width="2.4" height="11.7" fill="#26a69a"/><rect x="292.65" y="283.8" width="2.4" height="2.9" fill="#26a69a"/><rect x="295.59" y="283.8" width="2.4" height="9.4" fill="#ef5350"/><rect x="298.53" y="292.6" width="2.4" height="7.8" fill="#ef5350"/><rect x="301.47" y="297.5" width="2.4" height="2.9" fill="#26a69a"/><rect x="304.41" y="297.1" width="2.4" height="1.4" fill="#26a69a"/><rect x="307.35" y="293.2" width="2.4" height="4.7" fill="#26a69a"/><rect x="310.29" y="262.3" width="2.4" height="35.2" fill="#26a69a"/><rect x="313.23" y="253.0" width="2.4" height="11.3" fill="#26a69a"/><rect x="316.17" y="191.0" width="2.4" height="62.5" fill="#26a69a"/><rect x="319.11" y="191.0" width="2.4" height="25.4" fill="#ef5350"/><rect x="322.05" y="216.4" width="2.4" height="2.3" fill="#ef5350"/><rect x="324.99" y="204.7" width="2.4" height="13.7" fill="#26a69a"/><rect x="327.93" y="204.7" width="2.4" height="11.3" fill="#ef5350"/><rect x="330.87" y="215.4" width="2.4" height="18.6" fill="#ef5350"/><rect x="333.80" y="231.1" width="2.4" height="2.9" fill="#26a69a"/><rect x="336.74" y="231.1" width="2.4" height="9.2" fill="#ef5350"/><rect x="339.68" y="214.8" width="2.4" height="25.4" fill="#26a69a"/><rect x="342.62" y="212.9" width="2.4" height="13.7" fill="#ef5350"/><rect x="345.56" y="223.8" width="2.4" height="2.7" fill="#26a69a"/><rect x="348.50" y="213.5" width="2.4" height="10.7" fill="#26a69a"/><rect x="351.44" y="197.9" width="2.4" height="15.6" fill="#26a69a"/><rect x="354.38" y="197.9" width="2.4" height="27.9" fill="#ef5350"/><rect x="357.32" y="225.2" width="2.4" height="1.0" fill="#ef5350"/><rect x="360.26" y="225.2" width="2.4" height="2.0" fill="#ef5350"/><rect x="363.20" y="225.2" width="2.4" height="1.4" fill="#26a69a"/><rect x="366.14" y="224.2" width="2.4" height="2.0" fill="#26a69a"/><rect x="369.08" y="224.6" width="2.4" height="7.4" fill="#ef5350"/><rect x="372.02" y="231.6" width="2.4" height="8.2" fill="#ef5350"/><rect x="374.96" y="238.9" width="2.4" height="29.3" fill="#ef5350"/><rect x="377.90" y="268.2" width="2.4" height="2.0" fill="#ef5350"/><rect x="380.84" y="267.2" width="2.4" height="3.3" fill="#26a69a"/><rect x="383.78" y="266.2" width="2.4" height="2.9" fill="#26a69a"/><rect x="386.72" y="265.3" width="2.4" height="4.5" fill="#ef5350"/><rect x="389.66" y="269.2" width="2.4" height="7.2" fill="#ef5350"/><rect x="392.59" y="276.0" width="2.4" height="23.4" fill="#ef5350"/><rect x="395.53" y="287.3" width="2.4" height="12.5" fill="#26a69a"/><rect x="398.47" y="279.9" width="2.4" height="8.8" fill="#26a69a"/><rect x="401.41" y="279.9" width="2.4" height="2.0" fill="#ef5350"/><rect x="404.35" y="265.3" width="2.4" height="16.6" fill="#26a69a"/><rect x="407.29" y="262.0" width="2.4" height="3.9" fill="#26a69a"/><rect x="410.23" y="262.0" width="2.4" height="8.2" fill="#ef5350"/><rect x="413.17" y="269.2" width="2.4" height="16.6" fill="#ef5350"/><rect x="416.11" y="285.4" width="2.4" height="1.4" fill="#ef5350"/><rect x="419.05" y="286.2" width="2.4" height="7.0" fill="#ef5350"/><rect x="421.99" y="289.3" width="2.4" height="5.3" fill="#ef5350"/><rect x="424.93" y="292.6" width="2.4" height="3.9" fill="#ef5350"/><rect x="427.87" y="295.9" width="2.4" height="5.9" fill="#ef5350"/><rect x="430.81" y="298.5" width="2.4" height="2.9" fill="#26a69a"/><rect x="433.75" y="297.9" width="2.4" height="1.2" fill="#26a69a"/><rect x="436.69" y="297.9" width="2.4" height="13.3" fill="#ef5350"/><rect x="439.63" y="310.8" width="2.4" height="11.1" fill="#ef5350"/><rect x="442.57" y="321.9" width="2.4" height="4.9" fill="#ef5350"/><rect x="445.51" y="308.2" width="2.4" height="18.6" fill="#26a69a"/><rect x="448.44" y="305.7" width="2.4" height="3.1" fill="#26a69a"/><rect x="451.38" y="305.7" width="2.4" height="2.0" fill="#ef5350"/><rect x="454.32" y="307.3" width="2.4" height="5.9" fill="#ef5350"/><rect x="457.26" y="312.1" width="2.4" height="2.0" fill="#26a69a"/><rect x="460.20" y="308.2" width="2.4" height="4.3" fill="#26a69a"/><rect x="463.14" y="301.0" width="2.4" height="8.2" fill="#26a69a"/><rect x="466.08" y="301.0" width="2.4" height="7.2" fill="#ef5350"/><rect x="469.02" y="307.7" width="2.4" height="9.4" fill="#ef5350"/><rect x="471.96" y="301.4" width="2.4" height="16.0" fill="#26a69a"/><rect x="474.90" y="297.5" width="2.4" height="4.9" fill="#26a69a"/><rect x="477.84" y="297.5" width="2.4" height="12.7" fill="#ef5350"/><rect x="480.78" y="307.7" width="2.4" height="3.1" fill="#26a69a"/><rect x="483.72" y="297.5" width="2.4" height="10.7" fill="#26a69a"/><rect x="486.66" y="297.1" width="2.4" height="6.6" fill="#ef5350"/><rect x="489.60" y="299.1" width="2.4" height="5.3" fill="#26a69a"/><rect x="492.54" y="286.2" width="2.4" height="13.3" fill="#26a69a"/><rect x="495.48" y="266.2" width="2.4" height="20.5" fill="#26a69a"/><rect x="498.42" y="258.0" width="2.4" height="9.2" fill="#26a69a"/><rect x="501.36" y="258.0" width="2.4" height="5.3" fill="#ef5350"/><rect x="504.30" y="261.4" width="2.4" height="2.9" fill="#ef5350"/><rect x="507.24" y="262.0" width="2.4" height="2.3" fill="#26a69a"/><rect x="510.17" y="261.4" width="2.4" height="2.0" fill="#26a69a"/><rect x="513.11" y="242.4" width="2.4" height="19.9" fill="#26a69a"/><rect x="516.05" y="235.5" width="2.4" height="6.8" fill="#26a69a"/><rect x="518.99" y="211.1" width="2.4" height="25.4" fill="#26a69a"/><rect x="521.93" y="203.2" width="2.4" height="8.4" fill="#26a69a"/><rect x="524.87" y="159.3" width="2.4" height="45.9" fill="#26a69a"/><rect x="527.81" y="159.3" width="2.4" height="3.5" fill="#ef5350"/><rect x="530.75" y="162.2" width="2.4" height="1.4" fill="#ef5350"/><rect x="533.69" y="163.2" width="2.4" height="41.4" fill="#ef5350"/><rect x="536.63" y="203.8" width="2.4" height="13.1" fill="#ef5350"/><rect x="539.57" y="209.7" width="2.4" height="7.2" fill="#26a69a"/><rect x="542.51" y="209.7" width="2.4" height="2.3" fill="#ef5350"/><rect x="545.45" y="203.8" width="2.4" height="8.2" fill="#26a69a"/><rect x="548.39" y="203.8" width="2.4" height="21.9" fill="#ef5350"/><rect x="551.33" y="224.7" width="2.4" height="2.9" fill="#ef5350"/><rect x="554.27" y="227.1" width="2.4" height="5.9" fill="#ef5350"/><rect x="557.21" y="232.0" width="2.4" height="15.0" fill="#ef5350"/><rect x="560.15" y="246.6" width="2.4" height="12.1" fill="#ef5350"/><rect x="563.09" y="258.4" width="2.4" height="9.8" fill="#ef5350"/><rect x="566.02" y="261.3" width="2.4" height="10.7" fill="#26a69a"/><rect x="568.96" y="246.2" width="2.4" height="15.6" fill="#26a69a"/><rect x="571.90" y="246.2" width="2.4" height="11.1" fill="#ef5350"/><rect x="574.84" y="252.1" width="2.4" height="5.3" fill="#26a69a"/><rect x="577.78" y="229.1" width="2.4" height="23.8" fill="#26a69a"/><rect x="580.72" y="218.9" width="2.4" height="11.1" fill="#26a69a"/><rect x="583.66" y="205.6" width="2.4" height="13.7" fill="#26a69a"/><rect x="586.60" y="205.8" width="2.4" height="8.6" fill="#ef5350"/><rect x="589.54" y="214.0" width="2.4" height="13.7" fill="#ef5350"/><rect x="592.48" y="211.1" width="2.4" height="19.5" fill="#26a69a"/><rect x="595.42" y="198.4" width="2.4" height="13.3" fill="#26a69a"/><rect x="598.36" y="198.4" width="2.4" height="29.3" fill="#ef5350"/><rect x="601.30" y="220.8" width="2.4" height="6.8" fill="#26a69a"/><rect x="604.24" y="216.9" width="2.4" height="4.5" fill="#26a69a"/><rect x="607.18" y="213.0" width="2.4" height="4.5" fill="#26a69a"/><rect x="610.12" y="213.0" width="2.4" height="16.2" fill="#ef5350"/><rect x="613.06" y="228.6" width="2.4" height="16.6" fill="#ef5350"/><rect x="616.00" y="230.0" width="2.4" height="15.6" fill="#26a69a"/><rect x="618.94" y="230.0" width="2.4" height="9.4" fill="#ef5350"/><rect x="621.88" y="204.2" width="2.4" height="35.2" fill="#26a69a"/><rect x="624.81" y="204.2" width="2.4" height="6.2" fill="#ef5350"/><rect x="627.75" y="210.1" width="2.4" height="7.4" fill="#ef5350"/><rect x="630.69" y="216.9" width="2.4" height="28.1" fill="#ef5350"/><rect x="633.63" y="233.5" width="2.4" height="11.8" fill="#26a69a"/><rect x="636.57" y="229.2" width="2.4" height="6.2" fill="#26a69a"/><rect x="639.51" y="227.7" width="2.4" height="2.3" fill="#26a69a"/><rect x="642.45" y="227.7" width="2.4" height="13.7" fill="#ef5350"/><rect x="645.39" y="238.4" width="2.4" height="3.3" fill="#26a69a"/><rect x="648.33" y="238.4" width="2.4" height="3.9" fill="#ef5350"/><rect x="651.27" y="241.7" width="2.4" height="3.5" fill="#ef5350"/><rect x="654.21" y="240.4" width="2.4" height="4.5" fill="#26a69a"/><rect x="657.15" y="231.6" width="2.4" height="9.4" fill="#26a69a"/><rect x="660.09" y="231.6" width="2.4" height="11.7" fill="#ef5350"/><rect x="663.03" y="235.5" width="2.4" height="7.8" fill="#26a69a"/><rect x="665.97" y="235.5" width="2.4" height="3.5" fill="#ef5350"/><rect x="668.91" y="220.8" width="2.4" height="17.6" fill="#26a69a"/><rect x="671.85" y="203.2" width="2.4" height="18.6" fill="#26a69a"/><rect x="674.79" y="198.0" width="2.4" height="6.2" fill="#26a69a"/><rect x="677.73" y="198.0" width="2.4" height="7.2" fill="#26a69a"/><rect x="680.67" y="183.1" width="2.4" height="15.6" fill="#26a69a"/><rect x="683.60" y="157.3" width="2.4" height="26.8" fill="#26a69a"/><rect x="686.54" y="138.2" width="2.4" height="19.5" fill="#26a69a"/><rect x="689.48" y="138.2" width="2.4" height="16.6" fill="#ef5350"/><rect x="692.42" y="154.2" width="2.4" height="13.3" fill="#ef5350"/><rect x="695.36" y="165.2" width="2.4" height="2.3" fill="#26a69a"/><rect x="698.30" y="147.0" width="2.4" height="18.6" fill="#26a69a"/><rect x="701.24" y="147.0" width="2.4" height="5.9" fill="#ef5350"/><rect x="704.18" y="152.9" width="2.4" height="19.5" fill="#ef5350"/><rect x="707.12" y="167.9" width="2.4" height="4.5" fill="#26a69a"/><rect x="710.06" y="167.9" width="2.4" height="9.4" fill="#ef5350"/><rect x="713.00" y="176.9" width="2.4" height="27.7" fill="#ef5350"/><rect x="715.94" y="204.2" width="2.4" height="7.2" fill="#ef5350"/><rect x="718.88" y="204.2" width="2.4" height="7.2" fill="#26a69a"/><rect x="721.82" y="204.2" width="2.4" height="25.4" fill="#ef5350"/><rect x="724.76" y="216.3" width="2.4" height="13.3" fill="#26a69a"/><rect x="727.70" y="215.9" width="2.4" height="2.3" fill="#26a69a"/><rect x="730.64" y="210.5" width="2.4" height="7.8" fill="#26a69a"/><rect x="733.58" y="210.5" width="2.4" height="4.3" fill="#ef5350"/><rect x="736.52" y="212.4" width="2.4" height="4.9" fill="#ef5350"/><rect x="739.46" y="193.3" width="2.4" height="23.0" fill="#26a69a"/><rect x="742.39" y="175.7" width="2.4" height="18.2" fill="#26a69a"/><rect x="745.33" y="175.7" width="2.4" height="6.4" fill="#ef5350"/><rect x="748.27" y="181.2" width="2.4" height="9.8" fill="#ef5350"/><rect x="751.21" y="180.2" width="2.4" height="10.7" fill="#26a69a"/><rect x="754.15" y="170.4" width="2.4" height="10.7" fill="#26a69a"/><rect x="757.09" y="170.4" width="2.4" height="26.4" fill="#ef5350"/><rect x="760.03" y="184.7" width="2.4" height="12.1" fill="#26a69a"/><rect x="762.97" y="184.7" width="2.4" height="10.2" fill="#ef5350"/><rect x="765.91" y="193.9" width="2.4" height="74.8" fill="#ef5350"/><rect x="768.85" y="268.7" width="2.4" height="12.7" fill="#ef5350"/><rect x="771.79" y="249.2" width="2.4" height="32.2" fill="#26a69a"/><rect x="774.73" y="241.4" width="2.4" height="8.8" fill="#26a69a"/><rect x="777.67" y="241.4" width="2.4" height="12.7" fill="#ef5350"/><rect x="780.61" y="253.7" width="2.4" height="11.1" fill="#ef5350"/><rect x="783.55" y="264.8" width="2.4" height="10.7" fill="#ef5350"/><rect x="786.49" y="275.2" width="2.4" height="6.2" fill="#ef5350"/><rect x="789.43" y="273.6" width="2.4" height="7.8" fill="#26a69a"/><rect x="792.37" y="266.2" width="2.4" height="8.4" fill="#26a69a"/><rect x="795.31" y="259.5" width="2.4" height="7.8" fill="#26a69a"/><rect x="798.25" y="259.5" width="2.4" height="9.2" fill="#ef5350"/><rect x="801.18" y="267.7" width="2.4" height="5.9" fill="#ef5350"/><rect x="804.12" y="266.2" width="2.4" height="7.4" fill="#26a69a"/><rect x="807.06" y="261.9" width="2.4" height="4.9" fill="#26a69a"/><rect x="810.00" y="261.9" width="2.4" height="2.0" fill="#ef5350"/><rect x="812.94" y="251.1" width="2.4" height="13.1" fill="#26a69a"/><rect x="815.88" y="251.1" width="2.4" height="9.2" fill="#ef5350"/><rect x="818.82" y="259.9" width="2.4" height="9.4" fill="#ef5350"/><rect x="821.76" y="268.7" width="2.4" height="2.0" fill="#ef5350"/><rect x="824.70" y="270.1" width="2.4" height="13.7" fill="#ef5350"/><rect x="827.64" y="277.9" width="2.4" height="5.5" fill="#26a69a"/><rect x="830.58" y="277.1" width="2.4" height="1.6" fill="#26a69a"/><rect x="833.52" y="277.1" width="2.4" height="2.3" fill="#ef5350"/><rect x="836.46" y="278.5" width="2.4" height="26.4" fill="#ef5350"/><rect x="839.40" y="304.5" width="2.4" height="7.2" fill="#ef5350"/><rect x="842.34" y="304.5" width="2.4" height="7.2" fill="#26a69a"/><rect x="845.28" y="304.5" width="2.4" height="8.2" fill="#ef5350"/><rect x="848.22" y="287.7" width="2.4" height="25.0" fill="#26a69a"/><rect x="851.16" y="288.2" width="2.4" height="4.9" fill="#ef5350"/><rect x="854.10" y="288.2" width="2.4" height="4.5" fill="#26a69a"/><rect x="857.04" y="282.4" width="2.4" height="6.4" fill="#26a69a"/><rect x="859.97" y="282.4" width="2.4" height="15.6" fill="#ef5350"/><rect x="862.91" y="297.4" width="2.4" height="3.5" fill="#ef5350"/><rect x="865.85" y="300.0" width="2.4" height="9.2" fill="#ef5350"/><rect x="868.79" y="308.8" width="2.4" height="9.4" fill="#ef5350"/><rect x="871.73" y="309.7" width="2.4" height="8.4" fill="#26a69a"/><rect x="874.67" y="309.7" width="2.4" height="6.8" fill="#ef5350"/><rect x="877.61" y="316.2" width="2.4" height="8.6" fill="#ef5350"/><rect x="880.55" y="311.7" width="2.4" height="13.7" fill="#26a69a"/><rect x="883.49" y="311.7" width="2.4" height="7.8" fill="#ef5350"/></g>
<line x1="833.2" y1="544.1" x2="908.4" y2="535.1" stroke="#1f3a93" stroke-width="2.4" stroke-linecap="round"/>
<rect x="798.4" y="476.3" width="95.1" height="24.7" rx="5" fill="#fff" fill-opacity="0.28"/>
<path d="M803.4,476.3 H888.5 A5,5 0 0 1 893.5,481.3 V496 A5,5 0 0 1 888.5,501 H851.6 L858.7,539 L839.2,501 H803.4 A5,5 0 0 1 798.4,496 V481.3 A5,5 0 0 1 803.4,476.3 Z" fill="none" stroke="#a62a3b" stroke-width="1.35" stroke-linejoin="round"/>
<text x="806.6" y="490.7" font-size="9.3" fill="#a62a3b" stroke="#a62a3b" stroke-width="0.35" textLength="78.6" lengthAdjust="spacingAndGlyphs">Positive divergence</text>
<defs><linearGradient id="og" gradientUnits="userSpaceOnUse" x1="0" y1="426" x2="0" y2="461.5"><stop offset="0" stop-color="#26a69a" stop-opacity="0.6"/><stop offset="1" stop-color="#26a69a" stop-opacity="0"/></linearGradient><clipPath id="ob"><rect x="8" y="424" width="957" height="37.4"/></clipPath></defs>
<path d="M8.2,504.7 L10.7,512.9 L13.7,514.8 L17.2,521.7 L20.5,517.8 L23.4,513.3 L26.4,515.2 L29.3,528.5 L32.2,541.2 L35.2,530.5 L38.1,536.7 L42.0,540.6 L45.9,543.2 L49.8,537.3 L52.3,538.3 L55.7,533.4 L58.2,534.4 L61.5,525.0 L64.0,526.2 L67.4,517.4 L70.3,517.4 L73.2,521.7 L76.2,526.2 L79.3,529.6 L81.5,526.9 L84.4,526.9 L87.6,536.9 L90.2,529.1 L93.7,531.1 L96.8,548.3 L99.5,547.4 L102.9,550.8 L105.6,546.9 L108.3,548.6 L111.2,543.0 L114.4,509.0 L117.1,531.4 L120.0,531.7 L123.2,526.4 L126.4,528.1 L129.3,530.3 L131.8,533.2 L134.7,543.9 L137.6,550.8 L140.5,541.0 L143.5,532.7 L146.9,535.9 L149.8,529.3 L152.8,525.9 L155.2,529.8 L158.1,524.9 L161.2,528.3 L164.2,518.1 L167.4,523.9 L170.3,525.9 L173.3,525.6 L176.2,519.5 L178.6,507.8 L181.6,500.2 L184.6,496.3 L187.5,501.2 L190.2,507.0 L192.9,518.9 L195.9,522.2 L199.4,522.2 L202.7,513.1 L205.6,522.2 L208.6,523.4 L211.5,512.1 L213.8,514.0 L217.3,530.6 L219.7,531.2 L223.2,535.9 L226.1,514.0 L228.1,518.9 L234.5,504.7 L243.7,517.0 L248.6,515.0 L252.9,511.7 L257.4,513.6 L260.3,509.1 L264.2,484.3 L267.1,483.8 L270.1,479.9 L273.0,481.2 L275.9,481.2 L278.9,485.7 L281.8,487.1 L284.7,495.5 L287.3,498.8 L290.6,485.7 L293.5,485.1 L296.4,494.9 L299.8,505.2 L302.3,505.2 L305.6,501.9 L308.2,502.3 L311.1,466.2 L314.0,460.3 L317.0,436.3 L319.9,461.3 L322.8,462.3 L326.1,457.0 L328.7,467.2 L331.6,481.8 L334.1,480.8 L337.5,487.7 L340.4,475.0 L343.3,483.8 L346.2,482.4 L349.2,476.9 L352.5,469.1 L355.4,489.6 L359.9,490.2 L365.8,489.0 L368.7,492.5 L372.6,501.3 L376.5,522.8 L379.5,521.8 L384.3,519.4 L387.8,521.8 L390.7,527.6 L393.7,539.7 L396.6,528.6 L399.5,519.8 L402.5,520.8 L405.0,507.1 L408.3,503.2 L411.2,510.0 L414.2,520.8 L418.1,522.7 L423.0,526.6 L428.4,532.5 L431.2,529.6 L434.3,529.6 L437.6,539.3 L440.2,545.2 L442.9,547.5 L446.4,524.7 L449.3,521.8 L452.3,522.7 L455.2,528.0 L458.1,525.7 L461.1,519.8 L464.0,511.0 L466.9,516.9 L469.8,525.7 L472.8,508.1 L475.7,502.6 L478.6,513.9 L481.6,511.6 L484.5,501.2 L487.4,506.1 L490.4,501.8 L493.3,487.6 L496.2,473.9 L499.5,468.6 L503.0,474.5 L506.0,473.3 L508.9,474.9 L510.9,473.3 L513.8,460.8 L516.7,456.3 L519.6,445.6 L522.6,441.7 L525.9,430.3 L528.4,433.9 L531.4,435.4 L534.3,474.9 L537.2,484.6 L540.2,480.7 L543.1,482.7 L546.4,479.2 L549.5,494.4 L552.9,497.3 L555.8,503.2 L559.7,513.9 L563.6,525.3 L566.5,515.9 L569.5,505.1 L573.0,513.5 L575.9,508.1 L578.2,494.4 L581.3,487.6 L584.3,480.7 L587.2,486.6 L590.5,497.3 L593.4,487.6 L596.4,481.1 L599.3,497.9 L603.2,494.4 L607.5,491.5 L611.0,504.2 L613.9,512.4 L616.9,502.2 L619.8,507.7 L622.7,488.9 L625.7,492.5 L628.2,496.8 L631.5,512.0 L634.5,505.7 L637.4,505.1 L640.3,501.2 L643.2,508.5 L646.2,507.1 L649.1,509.1 L652.4,511.6 L655.4,506.1 L657.9,501.8 L660.8,509.1 L663.8,503.8 L666.7,505.1 L669.6,492.5 L672.5,481.7 L675.9,482.7 L679.4,474.9 L684.3,457.3 L687.2,451.8 L690.1,465.1 L693.4,476.8 L696.0,475.9 L699.3,468.0 L702.4,472.9 L704.8,486.6 L707.7,485.0 L710.6,492.5 L713.6,509.1 L716.5,513.0 L719.4,509.1 L722.7,522.7 L725.9,513.5 L727.8,513.9 L731.1,508.1 L734.1,510.0 L737.0,512.0 L739.9,496.4 L742.9,485.6 L745.8,488.9 L749.7,497.3 L752.6,495.4 L754.6,484.2 L757.5,501.2 L760.4,495.4 L762.5,499.0 L764.3,513.8 L766.8,535.3 L769.4,537.7 L772.7,521.0 L775.6,516.6 L778.6,522.0 L782.5,527.9 L786.4,531.4 L789.3,528.9 L793.2,522.0 L796.1,518.1 L799.1,521.0 L802.0,524.0 L804.9,518.1 L807.9,516.2 L810.4,517.1 L813.7,507.4 L816.6,512.7 L819.6,517.7 L822.5,519.1 L825.4,525.9 L828.4,521.0 L831.3,520.5 L833.8,522.0 L836.6,536.7 L839.7,541.2 L843.0,533.8 L845.9,537.7 L848.9,515.2 L851.8,516.6 L854.7,513.2 L857.3,510.7 L860.0,519.1 L863.5,522.0 L866.4,527.9 L869.4,532.8 L872.3,525.9 L875.2,527.9 L878.2,533.8 L881.1,520.5 L884.0,525.0 L884,461.4 L8,461.4 Z" fill="url(#og)" clip-path="url(#ob)" style="--g:1"/>
<path d="M8.2,504.7 L10.7,512.9 L13.7,514.8 L17.2,521.7 L20.5,517.8 L23.4,513.3 L26.4,515.2 L29.3,528.5 L32.2,541.2 L35.2,530.5 L38.1,536.7 L42.0,540.6 L45.9,543.2 L49.8,537.3 L52.3,538.3 L55.7,533.4 L58.2,534.4 L61.5,525.0 L64.0,526.2 L67.4,517.4 L70.3,517.4 L73.2,521.7 L76.2,526.2 L79.3,529.6 L81.5,526.9 L84.4,526.9 L87.6,536.9 L90.2,529.1 L93.7,531.1 L96.8,548.3 L99.5,547.4 L102.9,550.8 L105.6,546.9 L108.3,548.6 L111.2,543.0 L114.4,509.0 L117.1,531.4 L120.0,531.7 L123.2,526.4 L126.4,528.1 L129.3,530.3 L131.8,533.2 L134.7,543.9 L137.6,550.8 L140.5,541.0 L143.5,532.7 L146.9,535.9 L149.8,529.3 L152.8,525.9 L155.2,529.8 L158.1,524.9 L161.2,528.3 L164.2,518.1 L167.4,523.9 L170.3,525.9 L173.3,525.6 L176.2,519.5 L178.6,507.8 L181.6,500.2 L184.6,496.3 L187.5,501.2 L190.2,507.0 L192.9,518.9 L195.9,522.2 L199.4,522.2 L202.7,513.1 L205.6,522.2 L208.6,523.4 L211.5,512.1 L213.8,514.0 L217.3,530.6 L219.7,531.2 L223.2,535.9 L226.1,514.0 L228.1,518.9 L234.5,504.7 L243.7,517.0 L248.6,515.0 L252.9,511.7 L257.4,513.6 L260.3,509.1 L264.2,484.3 L267.1,483.8 L270.1,479.9 L273.0,481.2 L275.9,481.2 L278.9,485.7 L281.8,487.1 L284.7,495.5 L287.3,498.8 L290.6,485.7 L293.5,485.1 L296.4,494.9 L299.8,505.2 L302.3,505.2 L305.6,501.9 L308.2,502.3 L311.1,466.2 L314.0,460.3 L317.0,436.3 L319.9,461.3 L322.8,462.3 L326.1,457.0 L328.7,467.2 L331.6,481.8 L334.1,480.8 L337.5,487.7 L340.4,475.0 L343.3,483.8 L346.2,482.4 L349.2,476.9 L352.5,469.1 L355.4,489.6 L359.9,490.2 L365.8,489.0 L368.7,492.5 L372.6,501.3 L376.5,522.8 L379.5,521.8 L384.3,519.4 L387.8,521.8 L390.7,527.6 L393.7,539.7 L396.6,528.6 L399.5,519.8 L402.5,520.8 L405.0,507.1 L408.3,503.2 L411.2,510.0 L414.2,520.8 L418.1,522.7 L423.0,526.6 L428.4,532.5 L431.2,529.6 L434.3,529.6 L437.6,539.3 L440.2,545.2 L442.9,547.5 L446.4,524.7 L449.3,521.8 L452.3,522.7 L455.2,528.0 L458.1,525.7 L461.1,519.8 L464.0,511.0 L466.9,516.9 L469.8,525.7 L472.8,508.1 L475.7,502.6 L478.6,513.9 L481.6,511.6 L484.5,501.2 L487.4,506.1 L490.4,501.8 L493.3,487.6 L496.2,473.9 L499.5,468.6 L503.0,474.5 L506.0,473.3 L508.9,474.9 L510.9,473.3 L513.8,460.8 L516.7,456.3 L519.6,445.6 L522.6,441.7 L525.9,430.3 L528.4,433.9 L531.4,435.4 L534.3,474.9 L537.2,484.6 L540.2,480.7 L543.1,482.7 L546.4,479.2 L549.5,494.4 L552.9,497.3 L555.8,503.2 L559.7,513.9 L563.6,525.3 L566.5,515.9 L569.5,505.1 L573.0,513.5 L575.9,508.1 L578.2,494.4 L581.3,487.6 L584.3,480.7 L587.2,486.6 L590.5,497.3 L593.4,487.6 L596.4,481.1 L599.3,497.9 L603.2,494.4 L607.5,491.5 L611.0,504.2 L613.9,512.4 L616.9,502.2 L619.8,507.7 L622.7,488.9 L625.7,492.5 L628.2,496.8 L631.5,512.0 L634.5,505.7 L637.4,505.1 L640.3,501.2 L643.2,508.5 L646.2,507.1 L649.1,509.1 L652.4,511.6 L655.4,506.1 L657.9,501.8 L660.8,509.1 L663.8,503.8 L666.7,505.1 L669.6,492.5 L672.5,481.7 L675.9,482.7 L679.4,474.9 L684.3,457.3 L687.2,451.8 L690.1,465.1 L693.4,476.8 L696.0,475.9 L699.3,468.0 L702.4,472.9 L704.8,486.6 L707.7,485.0 L710.6,492.5 L713.6,509.1 L716.5,513.0 L719.4,509.1 L722.7,522.7 L725.9,513.5 L727.8,513.9 L731.1,508.1 L734.1,510.0 L737.0,512.0 L739.9,496.4 L742.9,485.6 L745.8,488.9 L749.7,497.3 L752.6,495.4 L754.6,484.2 L757.5,501.2 L760.4,495.4 L762.5,499.0 L764.3,513.8 L766.8,535.3 L769.4,537.7 L772.7,521.0 L775.6,516.6 L778.6,522.0 L782.5,527.9 L786.4,531.4 L789.3,528.9 L793.2,522.0 L796.1,518.1 L799.1,521.0 L802.0,524.0 L804.9,518.1 L807.9,516.2 L810.4,517.1 L813.7,507.4 L816.6,512.7 L819.6,517.7 L822.5,519.1 L825.4,525.9 L828.4,521.0 L831.3,520.5 L833.8,522.0 L836.6,536.7 L839.7,541.2 L843.0,533.8 L845.9,537.7 L848.9,515.2 L851.8,516.6 L854.7,513.2 L857.3,510.7 L860.0,519.1 L863.5,522.0 L866.4,527.9 L869.4,532.8 L872.3,525.9 L875.2,527.9 L878.2,533.8 L881.1,520.5 L884.0,525.0" fill="none" stroke="#7e57c2" stroke-width="2.25" stroke-linejoin="round" stroke-linecap="round" />
<path d="M7.8,497.7 C8.8,497.8 11.8,497.5 13.7,498.2 C15.6,498.9 17.2,500.1 19.5,502.1 C21.8,504.1 24.7,507.6 27.3,510.0 C29.9,512.5 32.6,514.5 35.2,516.8 C37.8,519.1 40.4,521.5 43.0,523.6 C45.6,525.7 48.2,528.0 50.8,529.5 C53.4,531.0 56.0,531.7 58.6,532.4 C61.2,533.1 63.8,533.9 66.4,533.8 C69.0,533.7 71.6,532.6 74.2,532.0 C76.8,531.4 79.7,530.7 82.0,530.1 C84.3,529.5 85.9,529.0 87.9,528.5 C89.9,528.0 91.8,526.8 93.8,527.0 C95.7,527.2 97.6,528.4 99.6,529.5 C101.6,530.6 103.5,532.3 105.5,533.4 C107.5,534.5 109.0,535.3 111.3,535.9 C113.6,536.5 116.5,536.6 119.1,536.7 C121.7,536.8 124.1,536.1 127.0,536.3 C129.9,536.5 133.8,537.9 136.7,537.7 C139.6,537.6 141.9,536.3 144.5,535.4 C147.1,534.5 149.7,532.8 152.3,532.4 C154.9,532.0 157.6,532.9 160.2,532.8 C162.8,532.7 165.7,532.4 168.0,532.0 C170.3,531.6 171.9,531.7 173.8,530.5 C175.8,529.3 177.8,526.6 179.7,524.6 C181.6,522.6 183.6,520.0 185.5,518.8 C187.4,517.5 189.0,517.5 191.4,517.0 C193.8,516.5 196.8,516.3 199.8,516.0 C202.8,515.7 207.1,515.3 209.5,515.0 C211.9,514.7 212.4,513.7 214.4,514.0 C216.4,514.3 218.8,515.8 221.2,517.0 C223.7,518.2 226.4,521.0 229.0,521.5 C231.6,522.0 234.0,520.6 236.9,519.9 C239.8,519.2 243.3,518.0 246.6,517.5 C249.8,517.0 253.8,517.7 256.4,517.0 C259.0,516.3 260.0,514.9 262.3,513.1 C264.6,511.3 267.4,508.3 270.0,506.2 C272.6,504.1 275.3,502.2 277.9,500.4 C280.5,498.6 283.1,497.1 285.7,495.5 C288.3,493.9 290.9,491.7 293.5,490.6 C296.1,489.6 298.9,488.9 301.3,489.2 C303.8,489.5 305.9,492.6 308.2,492.5 C310.5,492.4 312.6,490.2 315.0,488.6 C317.4,487.1 320.2,485.0 322.8,483.2 C325.4,481.4 328.0,479.0 330.6,477.9 C333.2,476.8 335.8,477.5 338.4,476.5 C341.0,475.5 344.0,473.2 346.2,472.0 C348.5,470.8 350.1,468.5 352.1,469.1 C354.1,469.7 355.7,473.4 358.0,475.4 C360.3,477.3 363.2,479.1 365.8,480.8 C368.4,482.5 371.0,483.5 373.6,485.7 C376.2,487.9 379.0,491.2 381.4,494.1 C383.8,497.0 385.4,500.2 387.8,503.2 C390.2,506.2 393.0,509.7 395.6,512.0 C398.2,514.3 400.5,515.6 403.4,516.9 C406.3,518.2 409.9,519.1 413.2,519.8 C416.5,520.4 419.4,520.4 423.0,520.8 C426.6,521.2 431.1,521.3 434.7,522.3 C438.3,523.3 441.2,525.3 444.5,526.6 C447.8,527.9 451.6,529.4 454.2,530.0 C456.8,530.6 457.7,530.7 460.0,530.5 C462.3,530.3 465.3,529.7 467.9,528.6 C470.5,527.5 473.1,525.7 475.7,523.7 C478.3,521.8 480.9,518.7 483.5,516.9 C486.1,515.1 488.7,515.1 491.3,513.0 C493.9,510.9 496.5,507.3 499.1,504.2 C501.7,501.1 504.1,497.8 507.0,494.4 C509.9,491.0 513.8,487.8 516.7,483.7 C519.6,479.6 522.2,473.9 524.5,470.0 C526.8,466.1 528.8,462.1 530.4,460.2 C532.0,458.2 532.3,458.3 534.3,458.3 C536.2,458.3 539.5,459.4 542.1,460.2 C544.7,460.9 547.6,461.5 549.9,462.8 C552.2,464.1 553.5,465.0 555.8,468.0 C558.1,471.0 561.0,476.0 563.6,480.7 C566.2,485.4 569.3,493.0 571.4,496.4 C573.5,499.8 574.9,500.2 576.3,501.2 C577.7,502.2 577.6,501.9 579.8,502.2 C582.0,502.5 586.2,503.4 589.5,503.2 C592.8,502.9 596.2,502.1 599.3,500.7 C602.4,499.3 605.2,495.9 608.1,494.8 C611.0,493.7 613.8,493.7 616.9,494.0 C620.0,494.3 623.4,495.3 626.6,496.4 C629.9,497.5 633.5,499.6 636.4,500.7 C639.3,501.8 641.6,502.3 644.2,502.8 C646.8,503.3 649.4,503.6 652.0,503.8 C654.6,504.0 657.0,503.4 659.8,503.8 C662.6,504.2 666.0,506.4 668.6,506.1 C671.2,505.8 673.0,504.1 675.5,502.2 C678.0,500.2 680.7,497.2 683.3,494.4 C685.9,491.6 688.5,488.0 691.1,485.6 C693.7,483.2 696.6,481.4 698.9,479.8 C701.2,478.1 703.1,476.8 704.8,475.9 C706.5,475.0 707.4,474.1 709.0,474.3 C710.6,474.5 712.3,475.1 714.5,476.8 C716.7,478.5 719.7,481.7 722.3,484.6 C724.9,487.5 727.6,491.6 730.2,494.4 C732.8,497.2 735.7,499.6 738.0,501.2 C740.3,502.8 741.5,503.4 743.8,504.2 C746.1,504.9 749.3,506.0 751.6,505.7 C753.9,505.4 755.5,503.4 757.5,502.6 C759.5,501.8 761.7,500.7 763.4,500.7 C765.1,500.7 765.4,501.7 767.8,502.5 C770.2,503.3 774.7,503.8 777.6,505.4 C780.5,507.0 782.5,509.8 785.4,512.3 C788.3,514.8 792.1,518.1 795.2,520.1 C798.3,522.1 801.0,524.3 803.9,524.4 C806.8,524.5 809.6,521.2 812.7,520.5 C815.8,519.8 819.2,520.4 822.5,520.1 C825.8,519.8 829.4,518.4 832.3,518.5 C835.2,518.6 837.5,520.1 840.1,521.0 C842.7,521.9 845.0,523.1 847.9,523.6 C850.8,524.1 854.5,523.9 857.7,524.0 C861.0,524.1 864.5,524.1 867.4,524.4 C870.3,524.7 872.4,526.0 875.2,525.9 C878.0,525.8 882.5,524.3 884.0,524.0" fill="none" stroke="#f9d549" stroke-width="1.1" stroke-linejoin="round" stroke-linecap="round" />
<text x="13.8" y="34.6" textLength="36.0" lengthAdjust="spacingAndGlyphs" stroke="#131722" stroke-width="0.22">Dogecoin</text>
<text x="54.3" y="34.6" textLength="3.5" lengthAdjust="spacingAndGlyphs" stroke="#131722" stroke-width="0.22">/</text>
<text x="61.1" y="34.6" textLength="35.6" lengthAdjust="spacingAndGlyphs" stroke="#131722" stroke-width="0.22">TetherUS</text>
<text x="100.6" y="34.6" textLength="2.2" lengthAdjust="spacingAndGlyphs" stroke="#131722" stroke-width="0.22">·</text>
<text x="106.3" y="34.6" textLength="9.1" lengthAdjust="spacingAndGlyphs" stroke="#131722" stroke-width="0.22">1D</text>
<text x="119.3" y="34.6" textLength="2.2" lengthAdjust="spacingAndGlyphs" stroke="#131722" stroke-width="0.22">·</text>
<text x="125.4" y="34.6" textLength="30.7" lengthAdjust="spacingAndGlyphs" stroke="#131722" stroke-width="0.22">Binance</text>
<text x="162.4" y="34.6" textLength="5.4" lengthAdjust="spacingAndGlyphs" stroke="#131722" stroke-width="0.22">O</text>
<text x="168.6" y="34.6" textLength="31.6" lengthAdjust="spacingAndGlyphs" fill="#f23645" stroke="#f23645" stroke-width="0.22">0.16172</text>
<text x="205.8" y="34.6" textLength="5.2" lengthAdjust="spacingAndGlyphs" stroke="#131722" stroke-width="0.22">H</text>
<text x="212" y="34.6" textLength="31.6" lengthAdjust="spacingAndGlyphs" fill="#f23645" stroke="#f23645" stroke-width="0.22">0.16250</text>
<text x="250" y="34.6" textLength="3.6" lengthAdjust="spacingAndGlyphs" stroke="#131722" stroke-width="0.22">L</text>
<text x="254.3" y="34.6" textLength="31.6" lengthAdjust="spacingAndGlyphs" fill="#f23645" stroke="#f23645" stroke-width="0.22">0.15536</text>
<text x="291.5" y="34.6" textLength="4.6" lengthAdjust="spacingAndGlyphs" stroke="#131722" stroke-width="0.22">C</text>
<text x="296.5" y="34.6" textLength="31.6" lengthAdjust="spacingAndGlyphs" fill="#f23645" stroke="#f23645" stroke-width="0.22">0.15620</text>
<text x="333.5" y="34.6" textLength="37.5" lengthAdjust="spacingAndGlyphs" fill="#f23645" stroke="#f23645" stroke-width="0.22">−0.00553</text>
<text x="374" y="34.6" textLength="34" lengthAdjust="spacingAndGlyphs" fill="#f23645" stroke="#f23645" stroke-width="0.22">(−3.42%)</text>
<text x="13.8" y="47.6" textLength="61.8" lengthAdjust="spacingAndGlyphs" stroke="#131722" stroke-width="0.22">EMA (20, close)</text>
<text x="81.5" y="47.6" textLength="31.6" lengthAdjust="spacingAndGlyphs" fill="#2962ff" stroke="#2962ff" stroke-width="0.22">0.17016</text>
<text x="13.8" y="60.7" textLength="61.3" lengthAdjust="spacingAndGlyphs" stroke="#131722" stroke-width="0.22">SMA (50, close)</text>
<text x="81.3" y="60.7" textLength="31.2" lengthAdjust="spacingAndGlyphs" fill="#f23645" stroke="#f23645" stroke-width="0.22">0.19573</text>
<text x="13.7" y="437.8" textLength="57.5" lengthAdjust="spacingAndGlyphs" stroke="#131722" stroke-width="0.22">RSI (14, close)</text>
<text x="77.7" y="437.8" textLength="21.7" lengthAdjust="spacingAndGlyphs" fill="#7e57c2" stroke="#7e57c2" stroke-width="0.22">38.52</text>
<text x="105.5" y="437.8" textLength="21.7" lengthAdjust="spacingAndGlyphs" fill="#f7cb45" stroke="#f7cb45" stroke-width="0.22">39.34</text>
<text x="972" y="73.3" textLength="31.6" lengthAdjust="spacingAndGlyphs" stroke="#131722" stroke-width="0.22">0.34000</text>
<text x="972" y="100.4" textLength="31.6" lengthAdjust="spacingAndGlyphs" stroke="#131722" stroke-width="0.22">0.32000</text>
<text x="972" y="127.5" textLength="31.6" lengthAdjust="spacingAndGlyphs" stroke="#131722" stroke-width="0.22">0.30000</text>
<text x="972" y="154.6" textLength="31.6" lengthAdjust="spacingAndGlyphs" stroke="#131722" stroke-width="0.22">0.28000</text>
<text x="972" y="181.7" textLength="31.6" lengthAdjust="spacingAndGlyphs" stroke="#131722" stroke-width="0.22">0.26000</text>
<text x="972" y="208.8" textLength="31.6" lengthAdjust="spacingAndGlyphs" stroke="#131722" stroke-width="0.22">0.24000</text>
<text x="972" y="235.9" textLength="31.6" lengthAdjust="spacingAndGlyphs" stroke="#131722" stroke-width="0.22">0.22000</text>
<text x="972" y="263.0" textLength="31.6" lengthAdjust="spacingAndGlyphs" stroke="#131722" stroke-width="0.22">0.20000</text>
<text x="972" y="290.1" textLength="31.6" lengthAdjust="spacingAndGlyphs" stroke="#131722" stroke-width="0.22">0.18000</text>
<text x="972" y="317.2" textLength="31.6" lengthAdjust="spacingAndGlyphs" stroke="#131722" stroke-width="0.22">0.16000</text>
<text x="972" y="344.3" textLength="31.6" lengthAdjust="spacingAndGlyphs" stroke="#131722" stroke-width="0.22">0.14000</text>
<text x="972" y="371.4" textLength="31.6" lengthAdjust="spacingAndGlyphs" stroke="#131722" stroke-width="0.22">0.12000</text>
<text x="972" y="398.5" textLength="31.6" lengthAdjust="spacingAndGlyphs" stroke="#131722" stroke-width="0.22">0.10000</text>
<text x="972" y="444.4" textLength="22.2" lengthAdjust="spacingAndGlyphs" stroke="#131722" stroke-width="0.22">80.00</text>
<text x="972" y="485.4" textLength="22.2" lengthAdjust="spacingAndGlyphs" stroke="#131722" stroke-width="0.22">60.00</text>
<rect x="968.5" y="23.5" width="45" height="19.5" rx="3" fill="#fff" stroke="#f2f3f5" stroke-width="1"/>
<text x="974.6" y="37" textLength="20.7" lengthAdjust="spacingAndGlyphs" stroke="#131722" stroke-width="0.22">USDT</text>
<text x="29.3" y="572.2" font-size="8.9" text-anchor="middle" stroke="#131722" stroke-width="0.4">Feb</text>
<text x="111.3" y="572.2" font-size="8.9" text-anchor="middle" stroke="#131722" stroke-width="0.4">Mar</text>
<text x="203.1" y="572.2" font-size="8.9" text-anchor="middle" stroke="#131722" stroke-width="0.4">Apr</text>
<text x="291.0" y="572.2" font-size="8.9" text-anchor="middle" stroke="#131722" stroke-width="0.4">May</text>
<text x="381.5" y="572.2" font-size="8.9" text-anchor="middle" stroke="#131722" stroke-width="0.4">Jun</text>
<text x="470.3" y="572.2" font-size="8.9" text-anchor="middle" stroke="#131722" stroke-width="0.4">Jul</text>
<text x="561.2" y="572.2" font-size="8.9" text-anchor="middle" stroke="#131722" stroke-width="0.4">Aug</text>
<text x="652.3" y="572.2" font-size="8.9" text-anchor="middle" stroke="#131722" stroke-width="0.4">Sep</text>
<text x="740.5" y="572.2" font-size="8.9" text-anchor="middle" stroke="#131722" stroke-width="0.4">Oct</text>
<text x="831.6" y="572.2" font-size="8.9" text-anchor="middle" stroke="#131722" stroke-width="0.4">Nov</text>
<text x="919.9" y="572.2" font-size="8.9" text-anchor="middle" stroke="#131722" stroke-width="0.4">Dec</text>
<rect x="965.6" y="131.6" width="42.5" height="12.5" rx="1.5" fill="#0404ff"/><text x="972" y="141.2" textLength="31.8" lengthAdjust="spacingAndGlyphs" fill="#fff" stroke="#fff" stroke-width="0.22">0.29000</text>
<rect x="965.6" y="240.0" width="42.5" height="12.5" rx="1.5" fill="#0404ff"/><text x="972" y="249.6" textLength="31.8" lengthAdjust="spacingAndGlyphs" fill="#fff" stroke="#fff" stroke-width="0.22">0.21000</text>
<rect x="965.6" y="347.3" width="42.5" height="12.5" rx="1.5" fill="#0404ff"/><text x="972" y="356.9" textLength="31.8" lengthAdjust="spacingAndGlyphs" fill="#fff" stroke="#fff" stroke-width="0.22">0.14000</text>
<rect x="926.9" y="259.3" width="81.2" height="12.6" rx="1.5" fill="#f23645"/><text x="972" y="268.9" textLength="31.8" lengthAdjust="spacingAndGlyphs" fill="#fff" stroke="#fff" stroke-width="0.22">0.19573</text>
<text x="930.7" y="268.9" textLength="30.8" lengthAdjust="spacingAndGlyphs" fill="#fff" stroke="#fff" stroke-width="0.22">SMA:MA</text>
<line x1="965.5" x2="965.5" y1="259.3" y2="271.9" stroke="#fff" stroke-opacity="0.35" stroke-width="0.8"/>
<rect x="941.6" y="294.4" width="66.5" height="12.5" rx="1.5" fill="#2962ff"/><text x="972" y="303.9" textLength="31.8" lengthAdjust="spacingAndGlyphs" fill="#fff" stroke="#fff" stroke-width="0.22">0.17016</text>
<text x="945.4" y="303.9" textLength="16.1" lengthAdjust="spacingAndGlyphs" fill="#fff" stroke="#fff" stroke-width="0.22">EMA</text>
<line x1="965.5" x2="965.5" y1="294.4" y2="306.9" stroke="#fff" stroke-opacity="0.35" stroke-width="0.8"/>
<rect x="915.2" y="313.3" width="51" height="12.5" rx="1.5" fill="#ef5350"/>
<rect x="965.6" y="313.3" width="45.6" height="33.3" rx="1.5" fill="#ef5350"/>
<line x1="965.5" x2="965.5" y1="313.3" y2="325.8" stroke="#fff" stroke-opacity="0.35" stroke-width="0.8"/>
<text x="918.6" y="322.9" textLength="42.3" lengthAdjust="spacingAndGlyphs" fill="#fff" stroke="#fff" stroke-width="0.22">DOGEUSDT</text>
<text x="972" y="322.9" textLength="31.8" lengthAdjust="spacingAndGlyphs" fill="#fff" stroke="#fff" stroke-width="0.22">0.15620</text>
<text x="972" y="333.6" textLength="32" lengthAdjust="spacingAndGlyphs" fill="#fff" stroke="#fff" stroke-width="0.22">−55.48%</text>
<text x="972" y="344.1" textLength="32" lengthAdjust="spacingAndGlyphs" fill="#fff" stroke="#fff" stroke-width="0.22" fill-opacity="0.75">08:21:17</text>
<rect x="905.5" y="507" width="92.9" height="11.8" rx="1.5" fill="#fdd835"/>
<line x1="965.5" x2="965.5" y1="507" y2="518.8" stroke="#fff" stroke-opacity="0.5" stroke-width="0.8"/>
<text x="908.8" y="516.2" textLength="52.8" lengthAdjust="spacingAndGlyphs" fill="#131722" stroke="#131722" stroke-width="0.22">RSI-based MA</text>
<text x="972.2" y="516.2" textLength="21.4" lengthAdjust="spacingAndGlyphs" fill="#131722" stroke="#131722" stroke-width="0.22">39.34</text>
<rect x="946.5" y="519.7" width="51.9" height="11.8" rx="1.5" fill="#7e57c2"/>
<line x1="965.5" x2="965.5" y1="519.7" y2="531.5" stroke="#fff" stroke-opacity="0.4" stroke-width="0.8"/>
<text x="950.4" y="528.9" textLength="11.2" lengthAdjust="spacingAndGlyphs" fill="#fff" stroke="#fff" stroke-width="0.22">RSI</text>
<text x="972.2" y="528.9" textLength="21.4" lengthAdjust="spacingAndGlyphs" fill="#fff" stroke="#fff" stroke-width="0.22">38.52</text>
<path d="M886.3,406.05 A7.6,7.6 0 1 0 891.8,411.8" fill="none" stroke="#9c27b0" stroke-width="1.1" stroke-linecap="round"/>
<path d="M885.9,409.8 L881.2,413.7 L884.0,413.7 L882.3,417.2 L887.3,412.9 L884.5,412.9 Z" fill="#9c27b0"/>
<circle cx="889.5" cy="408.2" r="2.1" fill="#f23645"/>
<g fill="#131722"><path d="M9,596.4 H18.5 V607.2 H13.1 V601.4 H9 Z"/><circle cx="21.5" cy="598.7" r="2.15"/><path d="M26,596.4 H31.2 L27.8,607.2 H21.9 Z"/></g>
<text x="36.9" y="607" textLength="91.4" lengthAdjust="spacingAndGlyphs" fill="#131722" font-size="14.8" stroke="#131722" stroke-width="0.5">TradingView</text>
</svg>
</body></html>
